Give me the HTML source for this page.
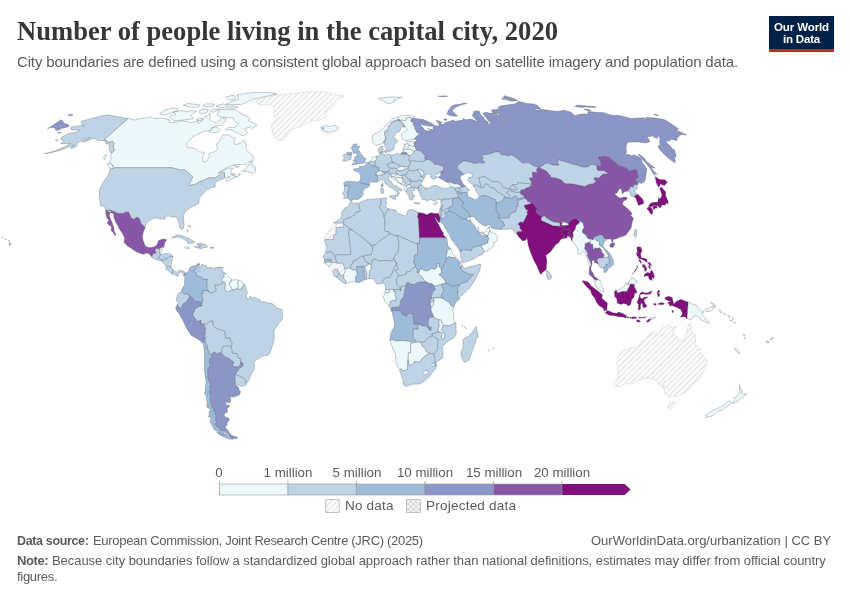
<!DOCTYPE html>
<html><head><meta charset="utf-8">
<style>
html,body{margin:0;padding:0;background:#fff;}
body{width:850px;height:600px;position:relative;overflow:hidden;font-family:"Liberation Sans",sans-serif;}
.t{position:absolute;white-space:nowrap;line-height:1;will-change:transform;}
#title{left:17px;top:17.9px;font-family:"Liberation Serif",serif;font-weight:bold;font-size:26.6px;color:#373737;}
#sub{left:17px;top:54.3px;font-size:15px;letter-spacing:-0.147px;color:#5b5b5b;}
#logo{position:absolute;left:769px;top:16px;width:65px;height:36px;background:#002147;}
#logo i{position:absolute;left:0;bottom:0;width:65px;height:2.8px;background:#ce261e;}
#logo b{will-change:transform;position:absolute;left:0;width:65px;text-align:center;color:#fff;font-size:11.5px;line-height:1;font-weight:bold;}
.lg{font-size:13.3px;color:#5b5b5b;transform:translateX(-50%);}
.lk{font-size:13.5px;color:#5b5b5b;}
.ft{font-size:13px;color:#5b5b5b;}
.ft b{color:#5b5b5b;}
svg{position:absolute;left:0;top:0;}
</style></head><body>
<div class="t" id="title">Number of people living in the capital city, 2020</div>
<div class="t" id="sub">City boundaries are defined using a consistent global approach based on satellite imagery and population data.</div>
<div id="logo"><b style="top:5.5px;letter-spacing:-0.1px">Our World</b><b style="top:17.8px;letter-spacing:-0.2px">in Data</b><i></i></div>
<svg width="850" height="600" viewBox="0 0 850 600">
<defs><pattern id="h" width="4" height="4" patternUnits="userSpaceOnUse" patternTransform="rotate(-45)"><rect width="4" height="4" fill="#fff"/><rect width="4" height="1.6" fill="#e7e7e7"/></pattern><pattern id="dots" width="5.2" height="5.2" patternUnits="userSpaceOnUse" x="407" y="500.3"><rect width="5.2" height="5.2" fill="#dadada"/><circle cx="1.3" cy="1.3" r="1.25" fill="#fff"/><circle cx="3.9" cy="3.9" r="1.25" fill="#fff"/></pattern></defs>
<g stroke="#d5d5d5" stroke-width="0.6" fill="url(#h)" stroke-linejoin="round">
<path d="M255.2,100.7L265.2,97.7L276.2,95.0L294.0,93.5L308.8,91.9L322.4,91.7L332.6,93.7L339.0,95.6L344.6,96.0L336.8,99.2L333.9,102.0L333.7,106.0L330.7,109.1L326.0,112.2L325.9,116.5L319.2,120.4L308.8,121.5L300.5,126.7L292.9,128.8L288.7,133.4L284.0,139.8L280.1,140.5L275.4,138.1L273.1,134.6L271.9,128.8L271.2,124.2L277.9,118.7L273.4,116.1L274.4,111.2L273.6,106.0L268.4,104.6L259.0,105.0L256.6,102.4Z"/>
<path d="M333.6,223.0L343.7,223.0L343.7,224.0L343.6,227.4L336.1,227.4L336.0,234.0L333.7,235.2L333.6,239.6L324.5,239.6L324.4,240.9L324.9,237.3L327.2,233.4L330.5,227.1L332.8,224.7Z"/>
<path d="M328.6,266.7L331.5,270.5L332.4,271.6L334.3,269.4L337.3,269.2L338.6,271.5L339.3,273.1L341.4,275.9L343.5,275.4L344.2,273.1L345.3,270.7L344.6,268.6L344.0,266.5L342.4,262.9L339.4,263.4L336.9,262.9L331.6,262.2L331.6,264.7L329.1,266.3Z"/>
<path d="M690.1,323.2L691.7,328.7L691.8,332.9L695.0,334.5L695.6,339.7L695.2,344.6L699.5,347.8L700.7,353.5L703.2,354.6L704.6,358.0L707.0,360.6L705.3,368.4L700.8,376.3L698.1,379.9L693.7,383.6L688.4,389.3L685.6,393.2L681.0,394.3L675.7,397.5L673.9,395.3L670.0,396.6L666.3,395.6L664.5,393.0L664.6,388.3L662.7,388.3L664.7,385.9L662.3,387.2L661.2,386.4L665.1,382.0L664.5,381.5L659.1,386.2L658.0,385.7L657.5,381.0L653.5,378.9L647.2,378.1L640.0,379.7L634.9,381.5L632.8,383.8L625.2,383.8L619.7,386.7L615.6,386.2L614.0,385.1L617.8,378.3L617.8,373.6L617.9,367.1L616.4,363.6L618.2,358.0L619.8,354.3L621.9,352.2L627.2,349.1L632.7,347.5L638.6,346.2L641.5,340.5L644.4,340.5L646.5,337.6L649.0,334.5L653.1,331.6L656.0,333.9L659.1,334.2L660.6,330.5L662.8,327.7L667.0,326.9L667.2,325.1L672.5,327.1L676.4,326.6L674.4,329.8L672.6,334.2L677.1,337.1L680.1,340.7L683.5,340.7L686.5,334.5L687.5,328.2L689.1,324.0ZM669.6,401.5L672.8,402.6L676.9,402.1L673.0,407.0L669.1,409.1L667.6,407.2L668.9,404.4Z"/>
</g><g stroke="#4f5560" stroke-opacity="0.7" stroke-width="0.45" stroke-linejoin="round">
<path fill="#edf8fb" d="M128.1,118.5L134.6,120.0L139.5,118.7L151.3,117.1L154.5,118.7L161.9,118.0L169.9,120.0L169.1,122.4L177.8,122.2L181.0,120.7L185.4,121.3L191.2,122.4L197.7,120.9L198.8,123.6L202.1,120.7L203.8,117.6L209.9,113.5L210.5,116.5L209.6,118.7L211.2,120.9L213.7,122.0L216.3,123.1L220.4,119.8L222.6,118.0L226.2,118.7L225.5,120.9L221.5,125.4L214.3,125.8L211.0,130.6L207.1,131.1L202.0,132.0L196.6,134.6L191.4,138.1L186.9,142.9L187.2,147.8L192.5,147.8L195.6,149.0L199.6,151.9L204.6,152.4L202.4,157.6L203.3,161.9L206.5,161.4L208.7,157.6L209.4,153.4L215.3,151.4L217.5,149.0L216.6,143.6L220.2,140.5L222.6,134.8L229.7,135.1L232.2,137.0L235.2,138.1L233.7,142.9L235.7,144.6L240.0,143.4L244.5,139.8L246.1,146.5L246.5,150.2L250.8,153.9L253.3,157.6L253.1,160.1L250.0,161.6L245.1,164.4L235.0,164.7L228.2,166.9L221.9,170.2L217.9,173.0L221.5,171.5L227.7,168.2L233.3,168.0L230.9,170.7L230.6,172.8L231.5,175.3L237.2,176.6L240.4,173.0L239.6,175.6L231.3,179.2L226.4,181.8L225.6,179.5L230.0,176.6L224.5,177.7L224.5,172.8L222.0,171.8L216.9,177.1L215.1,177.9L208.5,177.9L203.9,180.5L198.0,182.3L197.5,183.6L189.4,185.6L188.7,184.9L192.7,177.1L189.8,174.1L184.6,169.7L181.3,170.2L171.4,167.7L115.0,167.7L113.2,169.5L112.7,165.2L109.5,162.6L111.4,158.9L110.4,155.1L112.1,152.7L114.6,150.2L113.0,147.8L114.0,143.6L112.6,141.2L107.2,142.9L106.9,140.5L103.9,139.8L128.1,118.5ZM242.3,171.3L247.1,167.7L250.3,161.9L253.1,161.4L251.3,165.2L255.3,166.9L255.7,171.5L253.5,173.6L249.6,172.8L249.0,171.3ZM113.2,169.2L109.6,168.2L107.3,163.4L110.1,163.1L112.7,165.2L114.0,167.7ZM220.8,109.5L228.5,109.7L235.6,109.7L239.2,112.2L242.7,114.1L247.6,116.5L250.4,118.7L248.3,120.9L253.8,123.1L256.9,125.4L251.7,128.8L250.0,127.0L244.7,128.8L247.3,133.0L243.7,135.8L239.8,134.6L235.7,132.3L231.7,129.9L225.6,129.9L227.9,127.6L234.8,127.6L238.4,123.1L234.5,121.3L232.8,117.6L226.9,117.8L220.9,116.9L217.2,115.4L218.3,112.2ZM169.6,116.3L172.2,119.3L174.2,120.7L183.3,120.0L193.7,118.7L191.0,115.4L196.1,111.2L191.2,110.5L186.8,111.6L181.6,110.5L173.3,112.2L175.8,114.3ZM159.4,113.7L163.4,115.2L167.6,114.3L177.7,110.5L177.8,108.5L172.1,108.0L166.3,109.5ZM225.9,104.4L233.5,104.4L241.0,104.6L245.9,102.6L251.8,99.6L263.0,97.0L277.0,94.0L271.5,92.6L260.9,92.3L246.1,93.2L236.8,95.1L238.3,97.4L238.7,99.6L232.1,101.4ZM223.5,103.8L227.3,106.0L236.6,106.0L238.2,107.6L231.4,108.3L219.7,107.4L215.8,106.0ZM225.8,97.0L229.2,100.1L235.4,99.2L234.0,95.1ZM212.5,109.1L220.4,109.1L213.5,112.2L210.1,111.6ZM200.8,109.7L208.4,109.3L207.1,112.2L201.8,114.3L199.0,112.2ZM183.4,105.4L191.6,107.4L198.3,107.0L200.0,105.0L192.9,104.0L187.7,103.4ZM205.3,103.8L214.2,104.0L213.0,106.4L207.7,107.0L202.9,105.8ZM211.1,127.9L217.0,127.0L220.0,130.4L217.9,132.3L211.2,133.0L208.9,131.1ZM196.9,118.9L202.4,118.2L202.4,120.2L197.0,120.7ZM231.5,173.3L235.9,174.3L233.5,175.3ZM233.7,165.4L238.8,166.9L236.1,167.2ZM104.8,154.9L107.1,155.1L104.5,159.6L103.5,157.6Z"/>
<path fill="#bfd3e6" d="M115.0,167.7L110.5,169.2L108.4,174.8L102.7,183.1L99.1,190.0L99.7,196.5L100.1,205.2L104.4,206.5L105.8,210.4L110.9,210.4L118.2,213.5L124.3,213.5L124.8,212.2L128.5,212.2L131.2,218.0L134.1,219.5L136.0,217.4L139.0,218.0L141.0,223.4L145.2,227.6L146.1,222.7L152.0,219.0L155.0,217.7L159.9,218.7L164.9,219.3L164.9,216.4L168.3,216.1L173.6,216.9L176.9,216.9L178.5,222.1L179.8,227.4L181.2,229.4L183.1,228.7L184.2,224.7L183.2,215.6L185.2,211.7L190.1,207.8L193.1,206.5L199.0,203.1L199.1,198.6L200.9,196.0L204.8,192.1L206.0,189.5L210.7,188.2L215.4,186.7L214.8,183.8L217.2,181.0L224.3,178.4L224.5,177.7L224.5,172.8L222.0,171.8L216.9,177.1L215.1,177.9L208.5,177.9L203.9,180.5L198.0,182.3L197.5,183.6L189.4,185.6L188.7,184.9L192.7,177.1L189.8,174.1L184.6,169.7L181.3,170.2L171.4,167.7ZM128.1,118.5L122.6,117.6L115.8,116.5L107.5,114.8L99.3,116.5L91.1,118.7L81.7,121.1L81.6,124.2L83.8,125.8L80.1,125.4L70.4,127.4L71.5,129.9L79.3,129.9L76.3,132.3L69.5,133.4L61.5,137.0L60.4,139.3L64.2,140.8L60.6,143.9L67.6,143.4L70.4,143.4L65.1,146.5L56.4,150.2L48.9,152.7L44.4,153.7L50.9,152.7L58.7,150.7L66.6,147.8L74.7,144.6L79.7,141.7L87.4,138.1L89.7,137.7L82.0,142.2L88.4,140.5L92.3,138.6L95.7,138.8L97.6,140.5L103.2,140.5L105.5,141.0L106.0,143.6L109.2,144.6L109.2,147.8L109.5,150.5L110.6,152.7L112.1,152.7L114.6,150.2L113.0,147.8L114.0,143.6L112.6,141.2L107.2,142.9L106.9,140.5L103.9,139.8ZM71.7,146.5L77.5,144.6L75.8,146.8L70.6,148.5ZM55.3,140.0L58.5,139.8L56.5,141.0ZM57.6,132.0L61.5,132.7L57.9,133.4ZM9.3,242.5L11.5,243.8L9.5,245.9L9.1,244.3ZM8.5,240.4L9.9,240.9L8.9,241.5ZM5.2,238.9L6.5,239.1L5.6,239.9ZM2.2,237.3L3.3,237.5L2.7,238.1Z"/>
<path fill="#8856a7" d="M145.2,227.6L141.0,223.4L139.0,218.0L136.0,217.4L134.1,219.5L131.2,218.0L128.5,212.2L124.8,212.2L124.3,213.5L118.2,213.5L110.9,210.4L105.8,210.4L110.4,212.5L113.7,213.8L113.8,216.9L115.6,222.1L118.0,226.1L119.6,229.2L123.0,234.4L124.6,238.3L124.0,242.2L126.9,245.6L131.1,248.3L136.3,251.7L142.8,254.3L147.5,253.0L149.6,254.3L152.2,257.4L152.4,255.6L153.8,253.5L156.6,253.2L154.9,250.3L156.0,248.8L160.1,248.8L160.2,248.3L162.4,246.9L163.7,247.5L164.7,243.0L166.7,239.6L163.0,238.9L158.5,240.4L157.3,244.3L154.5,246.7L149.3,247.7L145.4,246.2L143.1,240.4L142.3,236.5L143.2,232.6ZM105.8,210.4L110.9,210.4L110.4,212.5L109.1,215.6L110.8,219.5L112.2,222.7L113.7,227.4L114.2,231.3L116.2,234.7L115.0,235.5L113.4,232.8L111.0,230.5L111.6,226.8L108.0,224.2L107.0,222.7L109.1,220.8L106.5,216.9L105.8,213.0Z"/>
<path fill="#bfd3e6" d="M160.1,248.8L156.0,248.8L154.9,250.3L156.6,253.2L153.8,253.5L152.4,255.6L152.2,257.4L153.9,259.0L156.8,259.4L158.7,257.7L159.2,256.1L161.7,254.3L160.2,253.7L159.5,253.5Z"/>
<path fill="#edf8fb" d="M160.1,248.8L159.5,253.5L160.2,253.7L161.8,251.4L162.8,247.2L162.4,246.9L160.2,248.3Z"/>
<path fill="#bfd3e6" d="M156.8,259.4L158.7,257.7L160.5,259.0L162.3,259.2L162.0,260.8L159.7,260.8Z"/>
<path fill="#bfd3e6" d="M158.7,257.7L159.2,256.1L161.7,254.3L163.3,254.0L166.8,253.5L170.2,254.0L172.9,256.1L169.2,256.9L166.9,259.0L164.6,259.2L163.1,261.3L162.0,260.8L162.3,259.2L160.5,259.0Z"/>
<path fill="#bfd3e6" d="M172.9,256.1L169.2,256.9L166.9,259.0L164.6,259.2L163.1,261.3L162.1,261.6L164.7,264.5L166.4,266.3L168.6,266.5L170.9,266.8L171.4,262.6L172.2,258.7Z"/>
<path fill="#bfd3e6" d="M166.4,266.3L168.6,266.5L170.9,266.8L173.2,270.2L172.4,271.8L172.3,274.1L170.5,273.1L168.2,270.2L165.9,269.2Z"/>
<path fill="#bfd3e6" d="M173.2,270.2L172.4,271.8L172.3,274.1L174.8,274.4L176.6,276.2L178.2,275.9L178.5,273.9L180.3,271.8L183.2,273.6L183.7,276.2L185.2,274.6L185.2,272.7L182.6,270.5L179.9,270.2L176.8,272.3Z"/>
<path fill="#bfd3e6" d="M171.2,238.1L175.9,235.2L180.4,234.9L184.7,236.8L189.0,238.6L192.2,240.4L194.9,242.5L191.9,243.3L186.9,243.4L188.2,241.5L185.4,240.4L182.3,238.3L177.9,237.0L174.5,237.5Z"/>
<path fill="#edf8fb" d="M184.8,247.2L188.0,246.9L189.7,248.3L187.4,248.8L185.0,248.0Z"/>
<path fill="#bfd3e6" d="M194.0,246.7L197.1,247.7L199.7,248.3L200.1,246.4L200.3,243.8L198.0,243.3L196.6,243.8L198.0,244.9L198.5,246.7Z"/>
<path fill="#bfd3e6" d="M199.7,248.3L200.1,246.4L200.3,243.8L203.2,243.6L205.8,244.9L207.6,246.7L206.2,247.2L203.4,247.7L201.0,249.0Z"/>
<path fill="#bfd3e6" d="M210.3,246.9L213.7,247.2L213.1,248.3L210.2,248.3Z"/>
<path fill="#edf8fb" d="M187.7,225.3L190.8,225.8L190.1,227.4ZM187.5,229.4L188.4,230.8L187.8,232.1Z"/>
<path fill="#edf8fb" d="M220.9,267.3L223.2,267.1L222.9,268.9L220.8,268.9Z"/>
<path fill="#edf8fb" d="M320.7,127.4L324.2,125.6L328.4,126.3L335.4,125.4L338.6,127.6L337.5,129.9L332.8,131.6L329.1,132.5L323.1,131.3L324.2,130.2L320.9,129.0L324.6,128.1Z"/>
<path fill="#9ebcda" d="M183.7,276.2L185.2,274.6L185.2,272.7L184.8,277.8L184.5,280.9L184.8,284.8L182.2,288.5L181.2,291.6L181.2,291.6L184.4,294.2L187.0,294.2L189.5,295.5L189.5,295.5L193.0,298.7L194.9,301.5L201.3,302.3L200.0,305.2L201.8,306.2L201.8,306.2L202.9,298.2L201.5,295.8L201.5,294.0L203.6,293.7L202.0,290.8L208.2,290.8L208.7,292.1L208.7,292.1L208.0,289.3L206.6,288.0L207.8,286.4L206.7,283.5L207.6,279.1L203.2,279.3L201.6,277.0L196.9,275.9L196.5,273.3L194.5,271.2L196.6,266.3L199.5,264.5L198.7,262.8L195.5,265.8L192.5,266.0L189.7,267.6L189.0,270.7L186.4,272.8Z"/>
<path fill="#bfd3e6" d="M199.5,264.5L196.6,266.3L194.5,271.2L196.5,273.3L196.9,275.9L201.6,277.0L203.2,279.3L207.6,279.1L206.7,283.5L207.8,286.4L206.6,288.0L208.0,289.3L208.7,292.1L208.7,292.1L211.9,293.2L214.9,291.4L216.8,289.5L215.4,288.7L215.0,284.6L218.0,285.6L218.5,284.8L222.4,283.5L223.2,281.7L223.2,281.7L221.6,279.9L222.3,277.8L224.2,276.7L223.6,274.9L225.5,273.6L225.0,272.8L222.7,272.8L223.3,270.7L219.9,269.4L218.8,268.1L220.9,267.3L215.4,267.6L215.1,268.9L211.0,267.6L206.4,267.6L206.6,265.5L202.9,265.2L202.1,263.7L201.7,265.8L199.1,266.8L198.5,269.9L199.8,271.2L198.2,271.5L197.4,269.4L198.7,266.5Z"/>
<path fill="#edf8fb" d="M225.0,272.8L225.5,273.6L223.6,274.9L224.2,276.7L222.3,277.8L221.6,279.9L223.2,281.7L223.2,281.7L224.5,282.2L224.8,283.5L225.4,283.8L225.8,285.1L225.0,285.9L224.6,288.2L225.5,290.6L227.1,291.9L229.2,291.4L230.8,290.2L232.7,290.2L232.7,290.2L230.9,286.7L229.3,284.6L229.6,282.7L231.0,282.2L231.4,279.7L229.5,277.5L228.2,275.9L226.8,274.1Z"/>
<path fill="#edf8fb" d="M231.4,279.7L231.0,282.2L229.6,282.7L229.3,284.6L230.9,286.7L232.7,290.2L232.7,290.2L233.8,289.3L234.1,290.3L235.9,288.7L237.3,289.3L237.3,289.3L238.5,286.1L237.5,283.5L238.6,280.3L236.1,279.6L234.0,280.0Z"/>
<path fill="#edf8fb" d="M238.6,280.3L237.5,283.5L238.5,286.1L237.3,289.3L237.3,289.3L238.9,289.1L241.0,289.5L242.2,286.9L243.9,284.4L243.6,283.3L241.1,281.2L238.9,280.3Z"/>
<path fill="#bfd3e6" d="M189.5,295.5L187.0,294.2L184.4,294.2L181.2,291.6L178.3,293.2L177.3,296.3L176.4,297.9L176.4,301.0L178.5,302.1L177.9,304.2L177.9,304.2L177.5,304.4L177.9,306.9L180.5,308.3L181.6,307.3L183.2,303.9L186.3,302.1L189.3,297.8L189.5,295.5Z"/>
<path fill="#8c96c6" d="M201.8,306.2L200.0,305.2L201.3,302.3L194.9,301.5L193.0,298.7L189.5,295.5L189.5,295.5L189.3,297.8L186.3,302.1L183.2,303.9L181.6,307.3L180.5,308.3L177.9,306.9L177.5,304.4L177.9,304.2L175.6,307.6L176.7,310.4L179.3,314.1L182.6,320.1L186.0,326.9L188.7,331.6L191.3,335.5L197.8,338.9L203.0,343.2L203.0,343.2L204.6,341.0L204.6,341.0L205.8,338.4L204.6,336.0L205.5,332.9L205.1,331.1L205.6,327.9L203.4,323.9L203.4,323.9L201.0,324.0L201.0,320.0L197.2,321.4L195.3,318.8L192.7,314.6L194.4,311.2L195.0,308.9L199.8,306.2L201.8,306.2Z"/>
<path fill="#bfd3e6" d="M204.6,341.0L205.8,338.4L204.6,336.0L205.5,332.9L205.1,331.1L205.6,327.9L203.4,323.9L206.3,324.0L210.0,321.1L212.8,320.6L213.2,325.3L215.7,327.9L219.2,329.2L223.4,330.5L224.6,331.3L225.7,337.9L230.1,337.9L230.5,340.7L232.3,342.8L231.8,344.9L231.2,347.0L231.2,348.0L228.9,345.7L222.8,346.5L222.0,349.1L221.6,353.4L218.7,352.7L217.8,354.8L215.8,353.0L213.2,352.2L211.7,354.6L211.5,354.8L209.9,354.8L208.8,351.4L207.3,348.6L207.7,346.0L206.4,344.9L204.8,341.0Z"/>
<path fill="#bfd3e6" d="M221.6,353.4L222.0,349.1L222.8,346.5L228.9,345.7L231.2,348.0L232.1,349.4L232.3,353.0L237.0,353.5L238.4,358.0L240.2,358.0L241.0,359.5L240.6,362.2L240.4,364.8L238.7,366.9L236.9,367.1L232.1,366.3L233.9,362.2L230.9,360.1L228.0,358.0L225.7,357.4L221.6,353.4Z"/>
<path fill="#9ebcda" d="M204.6,341.0L203.0,343.2L203.8,346.7L204.5,351.2L204.5,356.9L204.5,362.4L204.3,370.8L205.3,376.0L206.1,382.8L205.4,388.0L205.2,392.2L204.4,392.4L206.8,397.9L206.3,399.7L207.4,403.9L209.8,404.1L208.6,405.2L210.4,405.9L209.8,408.5L211.4,411.4L209.8,410.3L209.1,412.4L209.3,414.7L208.2,416.7L211.5,417.5L210.1,419.5L210.5,422.1L211.1,424.1L213.0,426.4L212.4,426.9L214.1,427.9L213.9,429.4L217.3,431.2L218.5,432.4L223.1,434.9L224.9,434.9L223.2,432.9L224.2,432.7L226.0,430.8L227.9,431.2L228.4,431.4L227.9,431.2L226.0,430.8L221.1,430.4L219.7,428.9L218.9,427.2L216.6,426.4L215.3,423.6L216.5,422.6L216.4,420.8L215.8,419.5L216.0,417.5L215.8,415.2L214.7,412.6L215.4,412.1L213.8,410.6L214.1,409.6L212.9,408.5L211.6,405.7L212.2,405.2L210.7,401.8L210.4,399.2L210.3,396.9L211.4,396.1L209.8,393.5L209.4,391.1L210.6,389.6L210.0,387.2L210.7,384.6L210.2,382.3L209.4,381.7L207.6,377.3L208.3,374.4L207.7,372.1L207.9,369.7L209.0,367.1L210.4,365.5L209.3,359.3L211.6,358.0L212.0,355.4L211.5,354.8L209.9,354.8L208.8,351.4L207.3,348.6L207.7,346.0L206.4,344.9L204.8,341.0ZM228.3,432.0L230.7,437.5L232.6,437.6L234.2,438.6L232.4,439.4L230.2,439.1L226.2,437.9L223.1,436.6L220.6,435.4L216.5,432.4L218.5,433.0L222.0,434.7L225.2,435.7L225.4,434.4L225.3,432.7L226.7,431.7ZM206.7,404.4L208.3,404.6L209.5,408.3L207.5,408.0Z"/>
<path fill="#8c96c6" d="M211.5,354.8L211.7,354.6L213.2,352.2L215.8,353.0L217.8,354.8L218.7,352.7L221.6,353.4L221.6,353.4L225.7,357.4L228.0,358.0L230.9,360.1L233.9,362.2L232.1,366.3L236.9,367.1L238.7,366.9L240.4,364.8L240.6,362.2L242.4,362.2L243.0,363.5L242.9,366.3L240.0,368.2L238.8,369.5L235.5,374.2L235.2,376.3L235.1,379.7L235.4,381.5L235.4,383.8L235.4,385.1L238.7,387.5L239.0,390.1L240.7,391.7L239.2,395.0L236.3,396.3L232.2,397.1L229.7,396.6L230.6,398.4L230.7,400.2L230.4,402.3L228.2,402.8L225.3,401.8L225.7,403.6L226.5,405.2L229.0,404.9L229.8,406.5L228.2,407.2L227.0,408.8L227.6,411.4L227.3,412.6L225.5,412.6L224.3,414.2L224.3,416.0L227.0,417.8L229.2,418.3L229.1,420.6L227.2,422.1L227.1,425.1L225.7,426.1L225.3,427.2L227.0,429.9L228.9,431.3L228.4,431.4L227.9,431.2L226.0,430.8L221.1,430.4L219.7,428.9L218.9,427.2L216.6,426.4L215.3,423.6L216.5,422.6L216.4,420.8L215.8,419.5L216.0,417.5L215.8,415.2L214.7,412.6L215.4,412.1L213.8,410.6L214.1,409.6L212.9,408.5L211.6,405.7L212.2,405.2L210.7,401.8L210.4,399.2L210.3,396.9L211.4,396.1L209.8,393.5L209.4,391.1L210.6,389.6L210.0,387.2L210.7,384.6L210.2,382.3L209.4,381.7L207.6,377.3L208.3,374.4L207.7,372.1L207.9,369.7L209.0,367.1L210.4,365.5L209.3,359.3L211.6,358.0L212.0,355.4L211.5,354.8ZM228.3,432.0L229.5,433.2L231.3,434.9L234.4,436.5L237.4,437.1L237.0,438.4L235.0,438.5L230.7,437.5Z"/>
<path fill="#bfd3e6" d="M235.4,383.8L235.4,381.5L235.1,379.7L235.2,376.3L235.5,374.2L239.3,376.0L242.7,377.6L244.6,378.9L246.2,380.7L245.5,382.0L246.3,383.6L245.7,385.1L243.6,386.6L241.7,386.1L240.7,386.4L238.5,385.1L237.0,385.4Z"/>
<path fill="#bfd3e6" d="M243.9,284.4L242.2,286.9L241.0,289.5L238.9,289.1L237.3,289.3L235.9,288.7L234.1,290.3L233.8,289.3L232.7,290.2L230.8,290.2L229.2,291.4L227.1,291.9L225.5,290.6L224.6,288.2L225.0,285.9L225.8,285.1L225.4,283.8L224.8,283.5L224.5,282.2L223.2,281.7L222.4,283.5L218.5,284.8L218.0,285.6L215.0,284.6L215.4,288.7L216.8,289.5L214.9,291.4L211.9,293.2L208.7,292.1L208.2,290.8L202.0,290.8L203.6,293.7L201.5,294.0L201.5,295.8L202.9,298.2L201.8,306.2L199.8,306.2L195.0,308.9L194.4,311.2L192.7,314.6L195.3,318.8L197.2,321.4L201.0,320.0L201.0,324.0L203.4,323.9L206.3,324.0L210.0,321.1L212.8,320.6L213.2,325.3L215.7,327.9L219.2,329.2L223.4,330.5L224.6,331.3L225.7,337.9L230.1,337.9L230.5,340.7L232.3,342.8L231.8,344.9L231.2,347.0L231.2,348.0L232.1,349.4L232.3,353.0L237.0,353.5L238.4,358.0L240.2,358.0L241.0,359.5L240.6,362.2L242.4,362.2L243.0,363.5L242.9,366.3L240.0,368.2L238.8,369.5L235.5,374.2L239.3,376.0L242.7,377.6L244.6,378.9L246.2,380.7L245.5,382.0L246.3,383.6L247.6,382.0L249.4,378.3L251.4,374.2L252.9,371.6L254.5,368.9L254.3,364.5L254.2,361.9L256.1,360.3L258.6,358.2L260.8,357.4L262.5,356.1L265.6,355.4L268.3,355.1L270.4,352.7L270.5,350.9L271.9,347.5L273.0,343.1L273.8,340.2L274.2,336.3L273.8,331.3L274.8,329.2L276.6,327.1L278.1,324.0L279.9,322.2L281.9,319.6L282.7,316.2L282.9,314.1L281.9,309.6L278.9,308.6L277.3,308.1L274.2,304.9L271.0,302.9L267.3,302.9L263.8,301.5L260.6,302.3L260.1,300.0L256.9,298.4L253.6,297.1L251.1,299.2L251.1,296.1L247.7,300.0L246.3,295.8L247.7,292.7L246.1,289.8L245.2,285.1L243.9,284.4Z"/>
<path fill="#edf8fb" d="M383.6,142.7L384.8,142.9L384.8,141.0L386.1,139.6L385.3,138.1L386.3,137.2L385.1,136.5L384.5,132.0L385.5,131.1L388.0,131.1L387.1,129.7L388.5,128.1L388.1,126.3L389.6,125.8L390.6,124.2L391.4,122.2L393.4,122.0L393.6,120.9L396.8,121.1L397.5,119.6L382.5,142.9L379.8,144.4L376.2,145.3L373.4,143.2L372.2,139.3L372.1,135.8L374.7,133.9L378.1,132.3L381.6,130.4L383.9,127.6L385.4,125.4L387.8,123.1L390.0,120.9L393.0,118.7L398.6,117.1L402.3,115.4L405.2,115.1L408.9,115.4L414.2,116.9L414.2,118.0L412.0,119.1L411.5,119.7L411.4,118.2L409.2,117.4L406.3,118.2L406.2,119.8L405.1,120.7L402.9,120.3L400.7,120.4L398.6,119.1L397.5,119.6ZM378.5,98.3L386.0,97.4L393.0,97.0L401.7,97.2L397.9,98.8L393.8,99.9L395.0,101.6L388.8,103.8L384.7,102.0L383.0,100.7L379.8,99.6Z"/>
<path fill="#bfd3e6" d="M397.5,119.6L396.8,121.1L393.6,120.9L393.4,122.0L391.4,122.2L390.6,124.2L389.6,125.8L388.1,126.3L388.5,128.1L387.1,129.7L388.0,131.1L385.5,131.1L384.5,132.0L385.1,136.5L386.3,137.2L385.3,138.1L386.1,139.6L384.8,141.0L384.8,142.9L383.6,142.7L384.1,144.4L385.4,146.3L387.0,149.7L387.8,151.7L390.3,151.7L390.5,150.5L393.2,150.0L394.2,148.5L394.2,145.6L394.8,143.9L397.3,141.7L397.8,140.3L394.7,138.8L394.0,136.5L395.0,134.6L397.4,132.3L399.4,131.6L400.5,129.7L400.6,128.1L401.8,127.0L405.0,127.0L403.9,125.8L404.1,124.5L403.3,123.1L402.7,122.1L400.0,120.9L397.5,119.6Z"/>
<path fill="#edf8fb" d="M397.5,119.6L400.0,120.9L402.7,122.1L403.3,123.1L404.1,124.5L403.9,125.8L405.0,127.0L398.6,119.1L400.7,120.4L402.9,120.3L405.1,120.7L406.2,119.8L406.3,118.2L409.2,117.4L411.4,118.2L411.5,119.7L410.8,120.0L411.4,121.5L414.1,122.7L413.0,124.5L414.7,126.5L415.2,129.2L415.9,129.9L416.3,131.8L419.6,133.7L417.2,135.8L415.8,137.4L414.0,139.2L409.0,140.0L405.3,140.9L402.4,139.1L401.9,138.1L401.3,134.6L403.2,132.7L406.3,130.4L407.4,128.8Z"/>
<path fill="#bfd3e6" d="M379.6,152.9L378.6,151.4L378.4,148.7L379.3,147.5L382.8,146.1L382.5,148.0L383.8,149.2L382.5,150.2L381.8,151.9L382.1,153.2ZM384.1,151.0L386.5,150.0L387.2,151.2L386.5,152.7L384.6,152.2ZM381.8,151.4L383.5,151.4L383.6,152.4L382.3,152.4Z"/>
<path fill="#9ebcda" d="M351.6,164.9L356.0,164.4L359.0,163.7L363.6,163.1L365.8,162.1L364.4,161.4L366.4,158.6L363.6,157.6L363.2,156.1L360.7,153.7L359.9,151.2L357.3,150.2L359.2,147.8L359.6,146.3L355.5,146.3L357.2,143.9L353.7,143.9L352.1,146.5L351.2,148.5L352.5,150.7L353.6,153.2L356.5,152.9L357.0,155.4L357.2,156.6L354.2,156.9L354.8,158.1L354.9,159.4L352.7,160.4L354.7,161.1L357.1,161.6L354.7,162.1ZM348.9,152.7L351.5,152.2L352.4,153.7L351.2,154.9L348.8,154.9L347.3,153.9Z"/>
<path fill="#bfd3e6" d="M351.2,154.9L351.3,156.9L350.8,159.6L348.2,160.1L346.2,161.1L343.2,161.1L342.7,159.6L344.4,158.4L343.5,156.4L343.6,154.7L346.6,154.2L346.4,152.7L348.6,151.9L348.9,152.7L347.3,153.9L348.8,154.9Z"/>
<path fill="#9ebcda" d="M359.3,182.0L360.5,178.9L360.7,176.4L360.5,174.8L358.5,172.5L357.3,171.5L354.1,170.7L353.3,169.2L357.0,168.2L359.8,168.7L359.4,165.9L360.8,166.7L363.4,166.4L366.2,164.7L366.2,162.9L368.1,162.4L369.4,163.1L371.4,165.2L372.6,164.9L374.7,166.4L375.9,166.4L379.5,167.7L378.5,171.3L377.1,172.0L375.5,174.8L377.0,174.3L377.4,175.6L377.5,177.7L377.3,179.5L378.6,181.0L376.8,182.5L374.3,182.3L371.4,181.8L369.5,182.8L369.5,184.6L366.6,184.4L364.5,183.6L361.8,183.3L359.3,182.0ZM381.1,184.6L382.7,183.1L383.0,185.6L382.4,187.2L381.1,185.9Z"/>
<path fill="#9ebcda" d="M359.3,182.0L355.1,181.8L350.9,181.5L346.3,181.3L343.6,183.1L344.3,185.9L345.8,185.4L346.0,186.2L349.1,185.9L349.9,186.7L348.4,188.2L348.4,190.3L348.1,191.6L347.0,191.9L348.1,193.4L347.4,195.0L348.0,195.5L346.9,197.3L347.1,198.1L349.2,199.2L350.9,201.2L353.5,199.4L358.3,199.4L361.5,197.1L363.4,193.9L362.4,192.1L364.9,188.8L367.7,187.2L370.0,185.6L369.5,184.6L366.6,184.4L364.5,183.6L361.8,183.3L359.3,182.0Z"/>
<path fill="#bfd3e6" d="M347.1,198.1L346.9,197.3L348.0,195.5L347.4,195.0L348.1,193.4L347.0,191.9L348.1,191.6L348.4,190.3L348.4,188.2L349.9,186.7L349.1,185.9L346.0,186.2L345.8,185.4L344.3,185.9L344.6,188.5L343.8,191.6L342.7,193.9L344.2,195.0L344.1,196.3L343.6,198.6Z"/>
<path fill="#bfd3e6" d="M368.1,162.4L369.8,161.6L371.5,161.6L372.9,161.4L374.5,162.1L374.4,163.1L375.2,163.4L375.8,164.4L375.2,164.9L374.7,166.4L372.6,164.9L371.4,165.2L369.4,163.1Z"/>
<path fill="#edf8fb" d="M369.8,161.6L370.9,160.1L372.2,157.6L373.8,156.6L376.7,156.6L377.1,157.1L376.8,158.6L376.2,160.1L374.9,160.6L375.3,161.6L374.7,162.6L374.4,163.1L374.5,162.1L372.9,161.4L371.5,161.6Z"/>
<path fill="#edf8fb" d="M374.7,166.4L375.2,164.9L376.0,165.7L375.9,166.4Z"/>
<path fill="#bfd3e6" d="M377.1,157.1L376.6,155.9L378.6,155.9L379.7,155.4L380.3,154.9L379.6,152.9L382.1,153.2L382.4,154.2L384.3,154.2L384.0,155.1L386.3,154.7L387.2,153.9L389.3,153.9L390.6,155.4L391.1,156.9L390.7,158.1L391.7,158.6L392.0,159.9L391.9,160.6L392.8,162.4L392.5,162.9L391.4,162.6L389.3,163.7L387.2,164.4L388.1,165.4L388.2,166.7L390.9,168.2L389.4,169.5L389.0,170.0L389.5,171.5L387.8,171.3L385.4,171.8L384.4,171.5L383.8,172.0L382.6,171.5L380.5,171.0L378.5,171.3L379.5,167.7L375.9,166.4L376.0,165.7L375.2,164.9L375.8,164.4L375.2,163.4L374.7,162.6L375.3,161.6L374.9,160.6L376.2,160.1L376.8,158.6Z"/>
<path fill="#edf8fb" d="M375.5,174.8L377.1,172.0L378.5,171.3L380.5,171.0L382.6,171.5L382.4,172.5L384.3,173.0L384.5,174.1L383.7,174.8L382.1,174.3L381.5,175.9L380.2,174.6L379.3,175.6L377.4,175.6L377.0,174.3Z"/>
<path fill="#bfd3e6" d="M382.6,171.5L383.8,172.0L384.4,171.5L385.4,171.8L387.8,171.3L389.5,171.5L389.0,170.0L389.4,169.5L390.9,168.2L392.7,168.7L393.3,167.7L395.5,168.5L397.2,168.7L397.7,170.2L396.6,171.5L395.9,173.0L393.7,173.8L391.1,174.1L388.4,173.6L387.9,172.8L385.9,173.0L384.3,173.0L382.4,172.5Z"/>
<path fill="#bfd3e6" d="M378.6,181.0L381.3,179.5L384.0,180.5L385.0,183.3L387.6,185.1L389.6,187.2L392.2,187.7L393.3,188.8L394.9,190.3L396.4,190.8L397.4,193.4L396.7,196.0L397.6,196.3L398.5,193.9L399.8,193.4L398.2,191.6L398.9,189.8L401.3,191.1L402.3,190.6L401.2,189.0L396.8,186.9L397.1,185.9L394.6,185.6L392.4,183.8L391.2,181.5L388.8,180.0L388.4,177.1L390.0,176.1L391.4,176.4L390.9,174.8L391.1,174.1L388.4,173.6L387.9,172.8L385.9,173.0L384.3,173.0L384.5,174.1L383.7,174.8L382.1,174.3L381.5,175.9L380.2,174.6L379.3,175.6L377.4,175.6L377.5,177.7L377.3,179.5ZM389.6,196.0L391.5,195.5L396.5,195.2L395.5,197.6L395.6,199.4L393.9,199.2L389.9,197.1ZM380.4,188.5L382.5,187.7L383.8,189.5L383.5,192.9L382.0,193.7L380.9,192.9L380.8,190.0Z"/>
<path fill="#bfd3e6" d="M392.5,162.9L392.8,162.4L391.9,160.6L392.0,159.9L391.7,158.6L390.7,158.1L391.1,156.9L390.6,155.4L394.6,154.2L397.8,153.2L399.0,154.2L401.0,154.0L407.2,154.3L408.7,155.1L409.8,157.6L408.7,159.4L409.8,161.4L411.0,163.1L409.9,164.2L408.6,166.2L408.6,167.4L405.2,166.7L403.3,167.2L402.2,166.2L400.9,166.4L399.1,165.2L396.8,164.2L395.5,163.4L392.8,162.6Z"/>
<path fill="#bfd3e6" d="M392.5,162.9L391.4,162.6L389.3,163.7L387.2,164.4L388.1,165.4L388.2,166.7L390.9,168.2L392.7,168.7L393.3,167.7L395.5,168.5L397.2,168.7L397.7,168.0L399.6,166.9L400.9,166.4L399.1,165.2L396.8,164.2L395.5,163.4L392.8,162.6Z"/>
<path fill="#edf8fb" d="M397.2,168.7L397.7,170.2L399.2,170.9L401.2,170.7L403.4,170.0L404.5,169.0L406.5,169.0L407.9,169.2L408.6,167.4L405.2,166.7L403.3,167.2L402.2,166.2L400.9,166.4L399.6,166.9L397.7,168.0Z"/>
<path fill="#bfd3e6" d="M395.9,173.0L396.6,171.5L397.7,170.2L399.2,170.9L401.2,170.7L403.4,170.0L404.5,169.0L406.5,169.0L407.9,169.2L409.5,170.2L407.8,171.8L406.5,174.3L404.7,175.0L401.9,175.6L399.4,175.5L397.0,174.2Z"/>
<path fill="#edf8fb" d="M391.1,174.1L393.7,173.8L395.9,173.0L397.0,174.2L395.2,174.8L395.1,175.9L394.4,176.8L392.9,176.6L391.1,176.6L391.4,176.4L390.9,174.8Z"/>
<path fill="#edf8fb" d="M391.1,176.6L392.9,176.6L394.4,176.8L395.1,175.9L395.2,174.8L397.0,174.2L399.4,175.5L401.9,175.6L402.5,177.4L402.3,178.2L400.2,177.7L397.9,177.4L396.1,177.4L395.7,178.4L396.7,180.0L398.5,181.8L399.8,183.1L401.8,184.5L398.6,183.1L396.4,181.8L394.6,180.0L393.8,177.9L392.5,177.1L391.8,178.4L390.9,176.9Z"/>
<path fill="#edf8fb" d="M396.1,177.4L397.9,177.4L400.2,177.7L402.3,178.2L403.0,178.2L402.7,179.7L403.8,180.7L403.1,181.8L402.1,182.5L401.8,184.1L399.8,183.1L398.5,181.8L396.7,180.0L395.7,178.4Z"/>
<path fill="#bfd3e6" d="M401.9,175.6L404.7,175.0L405.8,176.0L407.4,177.4L407.3,178.4L408.9,179.2L410.1,178.9L410.2,180.0L409.7,181.0L411.1,182.5L410.0,184.6L410.1,184.9L408.4,185.0L406.4,185.9L405.2,184.1L405.6,183.3L403.1,181.8L403.8,180.7L402.7,179.7L403.0,178.2L402.3,178.2L402.5,177.4Z"/>
<path fill="#edf8fb" d="M401.8,184.5L401.8,184.1L402.1,182.5L403.1,181.8L405.6,183.3L405.2,184.1L404.1,184.4L403.9,185.9Z"/>
<path fill="#edf8fb" d="M403.9,185.9L404.1,184.4L405.2,184.1L406.4,185.9L406.3,187.5L407.5,188.6L407.0,190.6L405.6,191.6L404.2,190.0L404.2,187.5Z"/>
<path fill="#edf8fb" d="M406.4,185.9L408.4,185.0L410.1,184.9L411.5,186.4L411.4,187.3L409.5,187.8L407.5,188.6L406.3,187.5Z"/>
<path fill="#bfd3e6" d="M405.6,191.6L407.0,190.6L407.5,188.6L409.5,187.8L411.4,187.3L413.7,186.9L416.5,187.6L418.1,187.3L418.6,186.4L419.2,187.5L418.1,188.9L415.9,188.5L413.9,189.0L414.9,190.4L413.4,190.8L411.6,189.5L411.1,190.8L412.5,192.9L412.0,193.7L414.5,195.5L414.6,196.8L412.4,196.3L413.0,197.8L412.9,199.9L411.7,200.2L409.9,199.2L408.6,196.5L409.8,195.2L408.2,195.0L407.3,193.7L406.1,191.9ZM414.2,202.3L416.2,202.8L420.2,203.1L417.4,204.1L414.3,203.3Z"/>
<path fill="#bfd3e6" d="M410.2,180.0L410.9,181.0L414.1,181.3L416.2,181.4L419.1,180.2L422.5,181.1L421.4,183.1L421.2,184.6L421.9,185.6L419.8,185.4L418.6,186.4L418.1,187.3L416.5,187.6L413.7,186.9L411.4,187.3L411.5,186.4L410.1,184.9L410.0,184.6L411.1,182.5L409.7,181.0Z"/>
<path fill="#bfd3e6" d="M404.7,175.0L406.5,174.3L407.8,171.8L409.5,170.2L413.7,171.0L416.9,169.6L417.8,170.0L420.5,173.0L421.2,176.8L424.4,177.4L424.3,178.4L422.6,180.5L422.5,181.1L419.1,180.2L416.2,181.4L414.1,181.3L410.9,181.0L410.2,180.0L410.1,178.9L408.9,179.2L407.3,178.4L407.4,177.4L405.8,176.0Z"/>
<path fill="#edf8fb" d="M416.9,169.6L419.3,169.2L422.1,170.5L424.2,173.3L424.7,174.3L422.6,175.1L421.2,176.8L420.5,173.0L417.8,170.0Z"/>
<path fill="#bfd3e6" d="M407.9,169.2L408.6,167.4L408.6,166.2L409.9,164.2L411.0,163.1L409.8,161.4L412.4,160.4L417.5,161.4L420.4,161.1L423.5,161.9L424.0,160.1L425.7,159.9L429.0,159.3L431.0,160.6L433.4,162.6L434.1,164.2L438.0,164.4L441.0,165.4L443.5,166.2L443.4,168.2L443.7,170.7L441.0,171.5L441.0,172.5L437.9,173.6L435.2,174.6L434.5,175.3L436.1,177.1L438.5,176.9L436.2,177.9L433.6,179.5L432.3,178.9L430.1,176.9L432.0,175.1L428.6,174.1L426.5,173.8L426.0,174.6L424.4,177.4L421.2,176.8L422.6,175.1L424.7,174.3L424.2,173.3L422.1,170.5L419.3,169.2L416.9,169.6L413.7,171.0L409.5,170.2Z"/>
<path fill="#bfd3e6" d="M425.7,159.9L424.0,160.1L423.5,161.9L420.4,161.1L417.5,161.4L412.4,160.4L409.8,161.4L408.7,159.4L409.8,157.6L408.7,155.3L410.5,155.4L412.4,154.4L412.8,152.9L414.1,151.9L414.0,151.0L416.7,149.8L419.3,150.7L422.3,151.2L422.5,153.2L424.7,154.9L426.9,156.6L424.4,157.1L425.7,159.9Z"/>
<path fill="#edf8fb" d="M403.1,150.0L404.9,149.2L410.4,149.2L414.0,151.0L414.1,151.9L412.8,152.9L412.4,154.4L410.5,155.4L408.7,155.3L407.2,154.3L406.8,152.8L404.0,152.1L403.5,151.9Z"/>
<path fill="#edf8fb" d="M403.1,150.0L403.0,148.3L403.7,146.4L405.6,146.1L406.9,147.5L408.7,147.8L408.8,145.7L409.9,145.3L411.9,145.8L414.6,146.4L415.6,147.3L415.6,148.3L416.7,149.8L414.0,151.0L410.4,149.2L404.9,149.2Z"/>
<path fill="#edf8fb" d="M408.8,145.7L408.8,144.4L406.8,143.6L406.5,142.4L408.9,141.7L411.1,141.5L414.9,141.8L414.1,143.4L414.5,144.9L414.6,146.4L411.9,145.8L409.9,145.3ZM404.1,144.1L406.0,143.9L405.5,144.9L404.3,145.3Z"/>
<path fill="#8c96c6" d="M414.2,118.0L418.1,118.9L423.3,119.5L427.3,121.3L433.4,124.2L434.5,126.0L432.3,126.3L429.7,126.3L423.3,124.9L418.5,124.0L420.8,125.4L424.0,128.8L424.3,129.9L427.7,131.1L430.0,131.1L429.8,129.2L427.0,128.8L433.4,129.7L432.8,127.6L435.6,125.6L439.3,126.3L438.9,124.2L437.3,122.0L436.0,120.5L438.9,120.9L442.1,122.4L440.0,123.6L442.9,124.5L444.8,122.9L447.8,121.8L450.8,120.9L453.7,120.0L454.4,121.5L456.7,120.9L459.8,120.4L463.0,120.0L463.6,118.0L465.4,119.8L470.9,119.1L476.1,120.9L478.7,121.5L474.8,118.7L472.9,116.1L472.2,114.8L473.9,113.3L473.4,111.4L476.9,110.7L479.6,111.6L480.3,114.3L482.8,116.5L484.8,119.8L488.2,122.0L488.3,124.9L490.5,122.9L488.7,120.9L482.8,113.3L484.7,112.6L487.6,112.2L489.2,113.3L493.1,113.1L496.0,113.7L499.8,116.5L498.6,113.9L492.4,112.2L491.2,110.1L498.7,109.3L498.2,107.0L501.6,105.8L508.2,104.8L514.9,104.0L518.4,101.6L522.4,102.2L526.5,103.6L532.8,103.8L537.0,105.2L541.1,109.1L536.4,109.1L533.5,110.7L538.3,110.1L541.6,109.5L545.0,109.7L551.8,110.7L554.7,111.2L559.5,111.2L563.7,110.1L571.2,112.2L574.4,115.4L576.0,115.4L578.8,114.3L582.6,114.1L587.7,114.3L588.1,112.2L588.1,111.4L596.1,112.2L604.3,112.8L608.1,114.3L612.9,115.4L618.3,115.2L627.5,117.6L631.3,118.5L635.9,118.2L641.4,118.0L642.4,117.6L648.2,119.8L645.4,117.4L651.1,117.8L655.6,118.0L662.6,119.3L665.1,119.8L678.6,128.8L677.5,129.2L677.6,129.9L675.0,129.4L676.5,130.4L683.9,133.4L686.5,135.1L681.4,134.6L679.1,136.2L677.0,138.1L677.2,140.5L671.1,139.3L669.5,141.0L666.4,140.8L666.8,142.9L669.9,145.8L673.5,149.7L674.5,149.7L675.2,152.7L675.9,153.9L675.9,157.1L673.7,157.6L675.4,160.1L674.8,162.9L670.9,160.1L666.3,156.4L662.6,152.7L658.6,148.3L658.3,145.8L660.4,144.4L659.3,141.7L660.2,139.6L659.1,137.0L658.9,134.6L657.9,136.7L656.8,138.8L652.5,136.0L647.4,136.7L650.0,141.7L645.8,142.9L643.6,142.7L638.2,142.0L632.7,142.0L628.3,142.2L627.2,142.9L626.3,145.8L626.1,149.2L626.6,152.7L624.4,153.7L630.1,155.1L631.8,155.9L633.6,154.7L639.1,156.9L641.3,159.6L642.4,162.6L644.4,165.2L646.9,169.0L646.4,172.0L645.6,178.4L644.8,181.3L641.6,183.6L638.9,182.5L637.6,184.9L637.3,184.6L636.8,181.8L634.7,178.2L638.1,177.7L637.6,174.1L637.0,171.0L635.9,169.5L632.8,170.0L632.5,171.0L629.4,171.0L626.5,168.2L622.4,166.7L618.7,165.7L617.8,164.4L610.7,158.9L609.8,157.6L603.8,156.3L599.2,156.9L598.8,158.6L600.7,161.4L601.3,165.2L599.8,166.4L597.0,165.5L594.0,164.7L591.4,164.4L588.3,166.7L584.5,167.2L580.1,166.4L577.3,165.2L572.7,164.2L565.8,161.9L558.3,159.9L557.7,162.6L559.3,165.2L553.3,165.2L547.2,163.1L544.6,163.9L542.6,165.9L539.9,166.4L539.9,167.3L538.9,167.4L534.1,166.2L528.1,162.6L522.3,163.1L515.2,156.9L511.6,155.1L507.2,156.1L505.6,155.1L501.1,154.7L499.6,152.2L495.6,151.9L489.3,154.2L483.5,155.1L481.6,155.4L483.6,157.9L481.8,160.1L485.3,162.1L482.6,163.4L479.3,162.6L474.7,163.7L471.4,162.6L467.0,161.4L463.5,160.9L460.1,163.7L457.3,165.7L457.7,167.2L457.8,169.2L461.6,171.8L463.5,174.3L464.0,174.6L461.7,175.3L460.8,176.1L460.3,178.4L462.4,183.1L465.4,186.0L462.9,187.5L460.8,185.9L457.3,183.8L454.9,184.1L450.8,182.5L446.5,182.0L444.1,180.5L442.3,179.5L440.5,178.7L438.6,177.4L440.7,175.3L441.5,175.1L440.2,173.6L443.2,172.5L441.0,172.5L441.0,171.5L443.7,170.7L443.4,168.2L443.5,166.2L441.0,165.4L438.0,164.4L434.1,164.2L433.4,162.6L431.0,160.6L429.0,159.3L425.7,159.9L424.4,157.1L426.9,156.6L424.7,154.9L422.5,153.2L422.3,151.2L419.3,150.7L416.7,149.8L415.6,148.3L415.6,147.3L414.6,146.4L414.5,144.9L414.1,143.4L414.9,141.8L416.5,140.8L418.7,140.8L416.4,140.0L415.3,139.3L414.0,139.2L415.8,137.4L417.2,135.8L419.6,133.7L416.3,131.8L415.9,129.9L415.2,129.2L414.7,126.5L413.0,124.5L414.1,122.7L411.4,121.5L410.8,120.0L411.5,119.7L412.0,119.1L414.2,118.0ZM61.0,119.8L62.8,121.3L64.1,123.3L68.4,124.5L69.0,126.3L66.0,127.4L60.6,128.8L59.2,130.2L56.9,130.2L54.7,129.2L55.8,127.9L51.7,127.6L51.9,127.0L47.5,128.8ZM401.0,154.0L401.6,152.8L403.5,151.9L404.0,152.1L406.8,152.8L407.2,154.3ZM446.7,113.9L450.0,115.6L454.4,116.3L457.7,116.1L454.4,113.3L452.1,110.5L454.6,108.0L457.4,106.4L462.2,104.6L467.1,103.4L463.9,103.0L460.3,104.2L454.7,104.8L451.2,106.4L449.7,109.1L448.1,110.5L447.6,112.6ZM638.2,154.4L639.3,154.2L643.7,157.6L646.7,161.4L655.2,168.2L650.8,167.2L654.6,172.0L657.5,174.6L654.7,173.6L655.1,175.6L653.4,173.8L651.3,170.2L647.8,165.2L642.7,160.1L639.8,156.6ZM501.5,99.2L503.5,97.4L504.0,95.6L513.9,98.6L517.9,100.5L511.5,101.3L506.4,99.6ZM574.9,106.4L577.3,105.0L586.6,106.0L595.3,106.6L595.5,107.6L585.2,107.0L581.4,107.6ZM583.9,109.3L587.9,109.3L591.3,110.5L587.6,110.7ZM653.7,114.3L656.1,114.3L658.3,115.6L656.7,115.8ZM69.9,114.3L73.3,114.8L71.0,115.6L67.7,115.6ZM443.6,119.1L446.1,118.7L447.2,119.8L445.5,120.4ZM438.2,96.3L443.5,95.8L448.0,96.2L444.3,96.8Z"/>
<path fill="#bfd3e6" d="M418.1,188.9L419.2,187.5L418.6,186.4L419.8,185.4L421.9,185.6L424.3,187.6L422.3,188.2L420.3,189.3L418.7,190.7ZM424.5,187.7L429.0,188.0L433.1,185.6L436.6,185.5L440.1,187.5L444.5,188.4L447.6,188.2L450.6,186.9L452.7,187.1L455.0,188.0L455.9,190.6L458.4,191.6L456.9,192.4L458.2,195.2L458.0,196.3L459.6,198.1L455.6,197.8L454.3,198.4L451.4,198.4L449.4,199.2L445.1,199.2L442.3,199.4L442.2,200.7L441.4,201.6L440.8,201.5L441.2,199.7L439.7,199.7L437.7,199.2L436.0,200.8L434.1,201.2L432.2,199.9L429.1,199.0L428.8,200.6L427.3,200.8L424.6,199.4L422.2,199.4L421.8,197.6L421.0,196.0L419.4,195.2L420.4,194.2L420.5,193.2L418.7,192.1L418.7,190.8L421.4,189.9L424.5,189.5L426.4,188.9L424.6,188.2Z"/>
<path fill="#edf8fb" d="M433.3,203.7L434.7,202.9L438.1,202.0L437.0,203.8L434.9,204.9L433.6,204.5Z"/>
<path fill="#edf8fb" d="M446.5,182.0L450.8,182.5L454.9,184.1L457.3,183.8L460.8,185.9L461.6,188.0L458.1,187.6L455.0,188.0L452.7,187.1L450.6,186.9L450.7,185.4L449.5,183.6Z"/>
<path fill="#bfd3e6" d="M455.0,188.0L458.1,187.6L459.6,188.8L460.5,190.3L462.4,192.9L461.6,193.8L460.0,193.4L458.4,191.6L455.9,190.6Z"/>
<path fill="#bfd3e6" d="M458.1,187.6L461.6,188.0L460.8,185.9L462.9,187.5L465.4,186.0L467.1,188.2L470.0,190.0L468.2,190.3L467.6,192.9L467.8,194.9L465.6,193.7L466.0,192.4L463.3,192.6L461.6,193.8L462.4,192.9L460.5,190.3L459.6,188.8ZM458.4,191.6L460.0,193.4L461.6,193.8L460.0,192.1Z"/>
<path fill="#bfd3e6" d="M358.2,203.6L356.5,203.1L353.2,203.3L351.3,201.5L350.2,201.8L348.2,206.5L344.4,208.3L342.6,210.4L341.4,213.0L341.8,215.9L340.4,218.7L338.3,220.3L334.3,222.4L333.6,223.0L343.7,223.0L343.7,220.3L347.5,218.2L350.8,217.2L355.1,214.6L356.4,212.2L360.2,211.4L360.4,210.4L359.3,208.3L359.3,205.2L358.2,203.6Z"/>
<path fill="#bfd3e6" d="M324.5,239.6L325.6,244.3L326.6,248.3L325.4,253.2L328.8,251.8L331.1,251.9L332.7,253.2L335.1,256.7L336.8,254.5L340.2,255.0L341.8,254.8L350.5,254.8L350.9,252.7L348.4,230.0L352.2,230.0L343.7,224.0L343.6,227.4L336.1,227.4L336.0,234.0L333.7,235.2L333.6,239.6Z"/>
<path fill="#bfd3e6" d="M358.2,203.6L361.9,201.8L365.2,199.9L369.5,199.2L373.8,199.2L377.0,198.4L379.8,198.6L381.6,198.9L381.0,201.2L380.9,204.6L379.4,207.0L381.2,210.4L382.8,211.4L384.0,216.4L385.1,221.3L384.9,226.1L384.1,226.8L385.5,231.3L389.1,231.8L390.0,233.9L380.0,240.7L376.2,244.3L372.7,245.3L370.5,245.6L370.0,243.6L367.1,242.2L365.7,240.2L352.2,230.0L343.7,224.0L343.7,223.0L343.7,220.3L347.5,218.2L350.8,217.2L355.1,214.6L356.4,212.2L360.2,211.4L360.4,210.4L359.3,208.3L359.3,205.2L358.2,203.6Z"/>
<path fill="#bfd3e6" d="M384.0,216.4L382.8,211.4L381.2,210.4L379.4,207.0L380.9,204.6L381.0,201.2L381.6,198.9L384.1,197.8L386.7,198.4L385.8,201.2L387.1,203.3L385.0,205.7L387.3,208.5L388.3,208.7L388.3,210.6L385.7,212.5L385.1,215.6Z"/>
<path fill="#bfd3e6" d="M388.3,208.7L392.0,209.3L396.4,210.6L397.9,213.5L401.7,214.6L405.1,216.1L407.2,214.3L407.2,211.2L410.2,209.3L413.7,210.1L418.4,212.6L417.7,216.9L418.5,219.0L419.5,237.8L419.7,243.0L417.4,243.0L417.5,244.3L396.8,235.2L395.1,236.2L393.4,234.7L390.0,233.9L389.1,231.8L385.5,231.3L384.1,226.8L384.9,226.1L385.1,221.3L384.0,216.4L385.1,215.6L385.7,212.5L388.3,210.6Z"/>
<path fill="#810f7c" d="M419.5,237.8L418.5,219.0L417.7,216.9L418.4,212.6L423.2,213.2L427.1,214.7L429.2,213.5L431.3,212.7L434.3,213.5L438.6,213.5L440.4,218.2L439.7,222.1L439.4,222.8L437.9,221.6L436.6,219.5L435.2,217.0L435.1,217.7L435.9,219.8L438.0,223.4L439.0,225.5L441.6,230.5L443.4,232.8L443.3,234.9L446.4,237.8L419.5,237.8Z"/>
<path fill="#9ebcda" d="M419.5,237.8L446.4,237.8L447.2,240.4L447.6,244.1L448.2,246.4L450.8,248.3L447.3,250.9L446.4,256.1L446.5,257.9L445.7,262.1L443.5,264.5L443.1,267.1L441.8,267.6L441.4,270.5L440.9,268.6L439.2,267.1L438.7,263.4L436.6,263.9L437.4,266.5L434.7,269.7L431.9,268.4L427.4,271.0L423.9,270.5L420.4,268.4L419.3,272.5L417.0,272.5L417.2,269.4L415.6,266.8L414.1,262.1L413.2,262.4L414.5,258.4L414.0,257.4L415.3,254.5L417.6,254.3L417.5,244.3L417.4,243.0L419.7,243.0Z"/>
<path fill="#edf8fb" d="M417.0,272.5L419.3,272.5L420.4,268.4L423.9,270.5L427.4,271.0L431.9,268.4L434.7,269.7L437.4,266.5L436.6,263.9L438.7,263.4L439.2,267.1L440.9,268.6L441.4,270.5L441.4,273.3L438.9,274.6L441.3,276.2L443.6,278.6L445.7,281.4L445.8,283.3L441.4,284.3L439.1,285.1L436.8,286.0L434.1,286.1L432.2,283.8L429.9,283.8L426.1,282.0L423.8,279.6L421.2,276.2L418.2,273.9L417.0,272.5Z"/>
<path fill="#edf8fb" d="M450.8,248.3L447.3,250.9L446.4,256.1L446.5,257.9L449.6,256.4L451.0,257.7L454.5,257.4L457.3,260.0L460.2,262.6L461.8,262.1L460.1,260.8L456.3,256.9L452.7,254.0Z"/>
<path fill="#edf8fb" d="M461.8,262.1L462.3,264.1L460.7,265.2L462.2,265.2L461.5,266.7L458.9,266.5L458.8,265.2L460.2,262.6Z"/>
<path fill="#9ebcda" d="M446.5,257.9L449.6,256.4L451.0,257.7L454.5,257.4L457.3,260.0L460.2,262.6L458.8,265.2L458.9,266.5L461.5,266.7L461.0,267.6L461.8,270.5L464.2,271.8L470.9,274.4L473.4,274.4L466.7,282.2L462.1,283.0L459.8,284.8L459.6,285.0L457.5,285.1L454.1,286.4L450.9,285.9L448.1,283.8L445.8,283.3L445.7,281.4L443.6,278.6L441.3,276.2L438.9,274.6L441.4,273.3L441.4,270.5L441.8,267.6L443.1,267.1L443.5,264.5L445.7,262.1L446.5,257.9Z"/>
<path fill="#bfd3e6" d="M462.2,265.2L464.0,268.0L466.3,268.1L470.9,266.3L475.4,265.8L479.5,264.1L480.6,264.4L480.3,267.8L479.8,270.7L477.6,274.4L473.6,282.2L469.1,288.7L467.5,290.1L463.4,293.7L459.9,297.6L458.9,299.6L457.6,297.6L457.6,288.0L459.6,285.0L459.8,284.8L462.1,283.0L466.7,282.2L473.4,274.4L470.9,274.4L464.2,271.8L461.8,270.5L461.0,267.6L461.5,266.7Z"/>
<path fill="#9ebcda" d="M458.9,299.6L455.7,302.6L453.4,307.5L449.9,304.4L449.7,303.1L441.5,297.9L441.2,295.0L442.6,292.4L443.8,290.3L441.4,284.3L445.8,283.3L448.1,283.8L450.9,285.9L454.1,286.4L457.5,285.1L459.6,285.0L457.6,288.0L457.6,297.6L458.9,299.6Z"/>
<path fill="#bfd3e6" d="M441.5,297.9L441.2,295.0L442.6,292.4L443.8,290.3L441.4,284.3L439.1,285.1L436.8,286.0L434.1,286.1L435.2,289.8L432.2,292.1L432.0,294.0L431.3,296.6L431.3,298.9L433.4,297.9Z"/>
<path fill="#bfd3e6" d="M431.3,298.9L433.4,297.9L434.2,301.3L433.4,301.5L432.0,302.6L429.9,302.3L430.4,299.5Z"/>
<path fill="#edf8fb" d="M429.9,302.3L432.0,302.6L433.4,301.5L434.0,303.9L432.2,306.8L430.8,306.9L430.3,303.9Z"/>
<path fill="#edf8fb" d="M453.4,307.5L452.4,311.0L453.9,313.3L453.4,317.0L454.4,321.1L455.9,322.6L451.3,325.1L449.0,325.8L445.1,325.3L443.2,325.5L442.4,324.0L441.1,320.1L438.9,319.8L436.6,319.0L434.3,317.7L433.7,316.7L432.5,313.6L431.0,311.0L430.8,306.9L432.2,306.8L434.0,303.9L433.4,301.5L434.2,301.3L433.4,297.9L441.5,297.9L449.7,303.1L449.9,304.4L453.4,307.5Z"/>
<path fill="#8c96c6" d="M391.1,310.4L391.5,311.0L393.9,310.6L401.2,310.7L402.1,314.3L406.7,316.2L407.7,313.6L410.2,313.6L413.2,314.3L413.3,320.1L414.2,324.3L418.1,323.8L418.8,324.8L421.1,324.5L421.3,325.8L424.7,326.4L425.4,325.6L428.1,327.9L429.4,330.3L431.2,330.4L431.3,327.0L428.1,326.1L428.4,323.2L428.7,319.6L429.5,317.5L433.7,316.7L431.0,311.0L430.8,306.9L430.3,303.9L429.9,302.3L430.4,299.5L431.3,298.9L431.3,296.6L432.0,294.0L432.2,292.1L435.2,289.8L434.1,286.1L432.2,283.8L429.9,283.8L426.1,282.0L421.8,281.7L419.2,282.0L415.8,283.0L414.7,284.6L410.5,283.8L407.9,282.0L405.9,284.0L405.9,286.1L404.8,289.5L404.1,294.5L403.6,296.8L400.4,300.5L400.4,303.1L399.7,305.7L398.0,306.8L396.2,308.1L396.2,306.5L393.9,307.8L393.2,307.4L392.0,308.3Z"/>
<path fill="#9ebcda" d="M391.5,311.0L392.5,313.6L393.4,318.3L394.7,324.0L393.7,327.9L391.1,332.6L390.6,335.0L389.8,340.3L393.8,339.7L394.9,340.7L405.1,340.7L411.7,342.0L416.3,341.3L413.2,337.6L413.4,329.2L418.0,329.2L418.1,323.8L414.2,324.3L413.3,320.1L413.2,314.3L410.2,313.6L407.7,313.6L406.7,316.2L402.1,314.3L401.2,310.7L393.9,310.6L391.5,311.0ZM390.7,308.3L391.1,310.4L392.0,308.3L393.2,307.4L392.3,306.8Z"/>
<path fill="#bfd3e6" d="M418.1,323.8L418.0,329.2L413.4,329.2L413.2,337.6L416.3,341.3L420.5,341.8L422.1,342.3L424.4,342.0L428.9,337.1L432.4,336.0L432.0,333.9L439.0,331.8L438.1,330.5L438.6,327.9L439.4,325.6L438.8,321.4L438.9,319.8L436.6,319.0L434.3,317.7L433.7,316.7L429.5,317.5L428.7,319.6L428.4,323.2L428.1,326.1L431.3,327.0L431.2,330.4L429.4,330.3L428.1,327.9L425.4,325.6L424.7,326.4L421.3,325.8L421.1,324.5L418.8,324.8L418.1,323.8Z"/>
<path fill="#edf8fb" d="M438.9,319.8L441.1,320.1L442.4,324.0L443.2,325.5L442.3,327.9L441.8,330.3L445.0,334.2L444.7,337.1L443.4,339.9L441.2,337.9L441.8,334.5L442.1,332.9L439.0,331.8L438.1,330.5L438.6,327.9L439.4,325.6L438.8,321.4L438.9,319.8Z"/>
<path fill="#bfd3e6" d="M455.9,322.6L456.0,327.9L456.3,333.7L454.2,337.6L449.5,340.5L446.9,342.0L443.1,346.2L442.0,347.1L442.8,351.4L443.0,355.4L442.7,358.0L437.1,361.4L436.0,363.2L436.6,365.4L434.8,365.4L434.7,362.9L434.8,359.3L433.7,353.8L436.5,350.9L437.8,347.0L437.3,343.9L438.1,340.5L438.0,338.9L434.9,337.6L432.4,336.0L432.0,333.9L439.0,331.8L442.1,332.9L441.8,334.5L441.2,337.9L443.4,339.9L444.7,337.1L445.0,334.2L441.8,330.3L442.3,327.9L443.2,325.5L445.1,325.3L449.0,325.8L451.3,325.1L455.9,322.6Z"/>
<path fill="#bfd3e6" d="M420.5,341.8L422.1,342.3L424.4,342.0L428.9,337.1L432.4,336.0L434.9,337.6L438.0,338.9L438.1,340.5L437.3,343.9L437.8,347.0L436.5,350.9L433.7,353.8L429.4,353.3L426.3,351.7L425.7,348.8L422.4,346.5L420.5,341.8Z"/>
<path fill="#edf8fb" d="M420.5,341.8L422.4,346.5L425.7,348.8L426.3,351.7L429.4,353.3L423.8,356.9L421.2,359.8L420.2,362.4L414.6,361.4L411.5,365.4L409.3,365.4L407.9,359.9L408.2,352.7L410.4,352.7L410.7,343.1L416.2,342.3L418.7,342.3L420.5,341.8Z"/>
<path fill="#edf8fb" d="M389.8,340.3L391.4,344.4L393.3,349.9L395.7,355.1L395.6,359.3L396.6,364.8L399.6,370.0L401.1,368.7L402.1,370.5L405.2,370.8L407.5,369.5L407.9,359.9L408.2,352.7L410.4,352.7L410.7,343.1L416.2,342.3L418.7,342.3L420.5,341.8L418.5,341.0L416.3,341.3L411.7,342.0L405.1,340.7L394.9,340.7L393.8,339.7L389.8,340.3Z"/>
<path fill="#bfd3e6" d="M399.6,370.0L400.9,373.6L402.4,378.9L403.2,380.7L403.2,384.1L403.4,385.0L406.6,386.3L411.3,384.4L414.3,384.1L418.9,384.1L422.1,382.8L424.4,381.2L429.2,376.8L431.7,373.4L434.2,370.2L435.7,368.4L436.6,365.4L434.8,365.4L434.7,362.9L434.8,359.3L433.7,353.8L429.4,353.3L423.8,356.9L421.2,359.8L420.2,362.4L414.6,361.4L411.5,365.4L409.3,365.4L407.9,359.9L407.5,369.5L405.2,370.8L402.1,370.5L401.1,368.7L399.6,370.0Z"/>
<path fill="#edf8fb" d="M422.9,372.6L425.3,370.2L427.3,370.5L428.2,372.6L426.0,375.2L423.7,374.4Z"/>
<path fill="#edf8fb" d="M431.9,365.3L432.9,362.7L434.5,362.9L434.8,365.3L432.9,366.6Z"/>
<path fill="#bfd3e6" d="M476.0,326.5L478.1,335.2L478.2,336.8L476.6,337.1L475.4,342.3L472.5,350.1L470.2,356.7L468.8,360.3L464.1,362.2L461.4,356.9L460.8,352.2L463.4,347.5L463.0,343.6L463.2,339.7L465.4,337.6L468.7,336.3L472.6,331.8L474.8,328.7Z"/>
<path fill="#bfd3e6" d="M325.4,253.2L323.0,256.7L324.6,259.2L324.6,259.7L328.7,259.2L331.4,259.9L331.4,260.8L328.7,260.5L324.5,260.9L324.6,263.0L328.6,262.2L331.6,262.2L336.9,262.9L335.1,256.7L332.7,253.2L331.1,251.9L328.8,251.8L325.4,253.2Z"/>
<path fill="#bfd3e6" d="M324.6,259.7L328.7,259.2L331.4,259.9L331.4,260.8L328.7,260.5L324.5,260.9Z"/>
<path fill="#edf8fb" d="M324.6,263.0L328.6,262.2L331.6,262.2L331.6,264.7L329.1,266.3L328.6,266.7L326.8,264.7L325.6,263.9Z"/>
<path fill="#bfd3e6" d="M339.3,273.1L338.6,271.5L337.3,269.2L334.3,269.4L332.4,271.6L333.1,273.9L334.2,275.9L336.5,277.3L338.6,274.9Z"/>
<path fill="#bfd3e6" d="M336.5,277.3L338.1,278.8L342.3,282.2L345.6,283.9L346.0,280.9L343.7,278.6L343.9,276.5L343.5,275.4L341.4,275.9L339.3,273.1L338.6,274.9Z"/>
<path fill="#edf8fb" d="M345.6,283.9L349.2,282.7L353.8,281.6L355.9,282.0L355.6,277.5L357.3,273.9L356.6,269.9L352.2,269.9L350.4,268.1L348.8,267.6L346.9,268.6L344.6,268.6L345.3,270.7L344.2,273.1L343.5,275.4L343.9,276.5L343.7,278.6L346.0,280.9L345.6,283.9Z"/>
<path fill="#9ebcda" d="M355.9,282.0L358.4,282.9L363.0,280.6L365.8,279.3L364.2,277.0L364.4,273.1L363.0,267.6L362.7,266.3L356.6,266.5L356.6,269.9L357.3,273.9L355.6,277.5L355.9,282.0Z"/>
<path fill="#bfd3e6" d="M365.8,279.3L364.2,277.0L364.4,273.1L363.0,267.6L362.7,266.3L365.1,266.5L364.8,268.1L366.7,271.8L366.8,279.1Z"/>
<path fill="#edf8fb" d="M366.8,279.1L369.2,278.7L369.4,271.8L371.3,268.6L371.3,264.7L368.5,263.4L368.5,264.2L365.3,266.3L365.1,266.5L364.8,268.1L366.7,271.8Z"/>
<path fill="#bfd3e6" d="M350.4,268.1L352.2,269.9L356.6,269.9L356.6,266.5L362.7,266.3L365.1,266.5L365.3,266.3L368.5,264.2L367.8,262.1L365.3,261.3L363.5,256.2L361.4,256.0L358.4,258.3L355.7,260.0L353.2,260.8L352.9,263.1L350.9,264.5L350.4,268.1Z"/>
<path fill="#bfd3e6" d="M335.1,256.7L336.8,254.5L340.2,255.0L341.8,254.8L350.5,254.8L350.9,252.7L348.4,230.0L352.2,230.0L365.7,240.2L367.1,242.2L370.0,243.6L370.5,245.6L372.7,245.3L372.6,251.1L371.0,255.0L366.0,255.3L363.5,256.2L361.4,256.0L358.4,258.3L355.7,260.0L353.2,260.8L352.9,263.1L350.9,264.5L350.4,268.1L348.8,267.6L346.9,268.6L344.6,268.6L344.0,266.5L342.4,262.9L339.4,263.4L336.9,262.9L335.1,256.7Z"/>
<path fill="#bfd3e6" d="M363.5,256.2L366.0,255.3L371.0,255.0L372.6,251.1L372.7,245.3L376.2,244.3L380.0,240.7L390.0,233.9L393.4,234.7L395.1,236.2L396.8,235.2L399.0,242.0L398.3,251.1L394.1,257.4L394.1,259.5L391.6,261.1L385.9,260.5L381.3,260.5L378.6,261.3L375.6,259.0L372.4,260.0L371.3,264.7L368.5,263.4L368.5,264.2L367.8,262.1L365.3,261.3Z"/>
<path fill="#bfd3e6" d="M369.2,278.7L373.1,278.8L374.5,280.1L375.5,282.2L377.1,284.0L380.3,283.8L382.6,283.1L383.3,280.1L386.0,277.3L389.0,277.8L390.2,276.5L392.4,272.8L393.6,269.2L395.6,265.8L396.5,263.4L395.3,261.3L394.1,259.5L391.6,261.1L385.9,260.5L381.3,260.5L378.6,261.3L375.6,259.0L372.4,260.0L371.3,264.7L371.3,268.6L369.4,271.8Z"/>
<path fill="#bfd3e6" d="M382.6,283.1L385.4,285.1L385.6,289.1L385.6,289.5L389.1,289.5L393.7,289.5L400.1,289.5L400.4,290.8L400.1,287.7L397.6,285.1L396.4,282.2L396.6,279.1L398.7,275.7L397.5,273.1L395.0,270.2L398.6,269.2L397.4,266.8L397.2,263.4L395.3,261.3L396.5,263.4L395.6,265.8L393.6,269.2L392.4,272.8L390.2,276.5L389.0,277.8L386.0,277.3L383.3,280.1L382.6,283.1Z"/>
<path fill="#edf8fb" d="M385.6,289.1L384.7,292.7L385.6,292.7L389.1,292.7L389.1,289.5L385.6,289.5Z"/>
<path fill="#edf8fb" d="M385.6,292.7L384.5,294.2L383.3,297.1L384.9,301.3L386.1,302.6L388.6,305.6L390.5,304.4L389.8,302.1L391.8,301.0L392.5,300.2L396.2,301.3L396.2,298.7L395.1,294.5L396.2,291.9L393.7,291.9L393.7,289.5L389.1,289.5L389.1,292.7Z"/>
<path fill="#bfd3e6" d="M388.6,305.6L390.7,308.3L392.3,306.8L393.2,307.4L393.9,307.8L396.2,306.5L396.2,308.1L398.0,306.8L399.7,305.7L400.4,303.1L400.4,300.5L403.6,296.8L404.1,294.5L404.8,289.5L405.9,286.1L403.4,285.9L401.3,286.1L400.4,290.8L400.1,289.5L393.7,289.5L393.7,291.9L396.2,291.9L395.1,294.5L396.2,298.7L396.2,301.3L392.5,300.2L391.8,301.0L389.8,302.1L390.5,304.4L388.6,305.6Z"/>
<path fill="#bfd3e6" d="M398.7,275.7L402.1,275.2L405.8,274.1L406.7,271.8L409.9,271.5L412.8,267.6L415.6,266.8L417.2,269.4L417.0,272.5L418.2,273.9L421.2,276.2L423.8,279.6L426.1,282.0L421.8,281.7L419.2,282.0L415.8,283.0L414.7,284.6L410.5,283.8L407.9,282.0L405.9,284.0L405.9,286.1L403.4,285.9L401.3,286.1L400.4,290.8L400.1,287.7L397.6,285.1L396.4,282.2L396.6,279.1L398.7,275.7Z"/>
<path fill="#bfd3e6" d="M396.8,235.2L417.5,244.3L417.6,254.3L415.3,254.5L414.0,257.4L414.5,258.4L413.2,262.4L414.1,262.1L415.6,266.8L412.8,267.6L409.9,271.5L406.7,271.8L405.8,274.1L402.1,275.2L398.7,275.7L397.5,273.1L395.0,270.2L398.6,269.2L397.4,266.8L397.2,263.4L395.3,261.3L394.1,259.5L394.1,257.4L398.3,251.1L399.0,242.0L396.8,235.2Z"/>
<path fill="#edf8fb" d="M462.1,325.1L462.8,325.6L462.3,326.4ZM464.3,326.9L465.2,327.1L464.8,327.7ZM466.1,328.5L466.8,328.7L466.3,329.2Z"/>
<path fill="#edf8fb" d="M493.1,347.8L494.0,348.0L493.5,348.8ZM488.2,349.9L489.2,350.4L488.5,351.2Z"/>
<path fill="#bfd3e6" d="M538.9,167.4L534.1,166.2L528.1,162.6L522.3,163.1L515.2,156.9L511.6,155.1L507.2,156.1L505.6,155.1L501.1,154.7L499.6,152.2L495.6,151.9L489.3,154.2L483.5,155.1L481.6,155.4L483.6,157.9L481.8,160.1L485.3,162.1L482.6,163.4L479.3,162.6L474.7,163.7L471.4,162.6L467.0,161.4L463.5,160.9L460.1,163.7L457.3,165.7L457.7,167.2L457.8,169.2L461.6,171.8L463.5,174.3L464.0,174.6L467.6,172.8L471.4,173.3L472.8,177.1L468.9,177.1L468.8,179.2L467.5,179.7L469.6,182.5L473.2,184.4L473.4,186.3L476.5,184.9L480.0,187.5L481.3,187.5L478.8,177.9L483.8,176.4L490.0,180.0L492.4,181.8L497.5,181.5L500.8,183.3L502.1,185.6L503.8,187.7L507.0,188.5L508.5,189.3L510.6,186.7L512.2,185.0L517.3,184.6L517.7,182.5L521.7,183.3L528.5,183.6L531.6,185.1L531.0,183.1L531.9,182.5L529.1,178.4L533.4,177.4L532.7,176.6L532.4,172.3L537.6,172.5L536.5,169.2L538.9,167.4Z"/>
<path fill="#bfd3e6" d="M481.3,187.5L478.8,177.9L483.8,176.4L490.0,180.0L492.4,181.8L497.5,181.5L500.8,183.3L502.1,185.6L503.8,187.7L507.0,188.5L508.5,189.3L510.6,186.7L512.2,185.0L514.9,186.9L517.8,188.8L515.6,190.3L512.3,189.5L509.8,188.8L509.6,190.3L507.9,191.9L506.7,192.1L509.8,195.5L509.1,198.1L506.2,197.7L504.7,196.0L499.8,193.4L495.9,190.8L493.9,188.0L489.9,187.2L489.1,185.1L485.8,183.8L483.4,187.5L481.3,187.5Z"/>
<path fill="#bfd3e6" d="M473.4,186.3L475.1,188.2L475.5,190.8L477.2,192.6L479.1,197.7L481.1,196.0L485.9,195.5L489.5,197.1L492.5,198.9L495.3,199.7L496.0,202.3L499.2,203.1L502.6,200.5L504.4,197.3L506.2,197.7L504.7,196.0L499.8,193.4L495.9,190.8L493.9,188.0L489.9,187.2L489.1,185.1L485.8,183.8L483.4,187.5L481.3,187.5L480.0,187.5L476.5,184.9L473.4,186.3Z"/>
<path fill="#bfd3e6" d="M512.2,185.0L517.3,184.6L517.7,182.5L521.7,183.3L528.5,183.6L531.6,185.1L528.6,187.5L525.7,188.2L524.3,189.8L521.8,189.8L520.1,191.3L520.1,192.3L516.6,192.4L513.2,191.9L510.5,191.1L511.7,190.3L512.3,189.5L515.6,190.3L517.8,188.8L514.9,186.9L512.2,185.0Z"/>
<path fill="#bfd3e6" d="M509.1,198.1L509.8,195.5L506.7,192.1L507.9,191.9L509.6,190.3L509.8,188.8L512.3,189.5L511.7,190.3L510.5,191.1L513.2,191.9L516.6,192.4L520.1,192.3L521.3,194.7L523.6,195.0L524.4,198.0L520.8,197.6L517.7,199.4L516.4,196.3L513.8,196.3L512.8,198.2L509.7,198.6L509.1,198.1Z"/>
<path fill="#9ebcda" d="M496.0,202.3L499.2,203.1L502.6,200.5L504.4,197.3L506.2,197.7L509.1,198.1L509.7,198.6L512.8,198.2L513.8,196.3L516.4,196.3L517.7,199.4L520.8,197.6L524.4,198.0L522.8,199.2L517.9,200.5L518.0,204.1L518.1,206.5L516.0,206.7L517.0,208.3L515.7,210.4L515.6,211.9L512.8,212.5L509.7,214.6L509.7,217.3L505.0,218.2L501.7,218.5L497.9,217.3L499.5,214.3L497.0,213.0L495.8,208.5L496.0,205.2L496.0,202.3Z"/>
<path fill="#bfd3e6" d="M497.9,217.3L500.7,220.6L502.9,221.6L503.3,224.2L504.4,224.5L504.4,225.8L501.6,226.8L501.3,229.4L506.6,229.2L512.2,228.9L513.5,230.5L514.9,232.8L516.6,233.4L517.7,231.8L522.6,231.5L519.9,228.1L520.0,225.8L518.2,224.2L519.9,222.1L523.3,222.4L525.1,219.0L526.5,215.9L527.7,214.0L526.9,211.7L528.7,210.9L525.9,209.1L524.0,205.7L526.4,204.9L530.5,203.8L531.9,202.5L527.7,201.5L527.0,199.7L524.4,198.0L522.8,199.2L517.9,200.5L518.0,204.1L518.1,206.5L516.0,206.7L517.0,208.3L515.7,210.4L515.6,211.9L512.8,212.5L509.7,214.6L509.7,217.3L505.0,218.2L501.7,218.5L497.9,217.3Z"/>
<path fill="#810f7c" d="M531.9,202.5L530.5,203.8L526.4,204.9L524.0,205.7L525.9,209.1L528.7,210.9L526.9,211.7L527.7,214.0L526.5,215.9L525.1,219.0L523.3,222.4L519.9,222.1L518.2,224.2L520.0,225.8L519.9,228.1L522.6,231.5L517.7,231.8L516.6,233.4L518.7,236.8L522.6,240.9L526.1,239.9L526.7,237.3L527.5,240.4L528.3,245.6L530.0,250.9L531.5,254.8L534.3,261.3L536.9,266.0L538.3,269.4L540.1,273.6L541.4,274.2L542.8,272.0L544.8,271.0L546.5,268.4L546.3,266.5L546.9,261.1L545.9,255.3L547.9,254.0L550.6,251.7L552.5,249.0L555.9,244.6L559.0,242.5L559.9,240.4L561.9,238.6L564.1,238.3L563.1,234.7L561.0,231.0L562.5,229.2L560.8,226.3L564.2,227.4L564.5,229.2L570.0,229.7L570.5,231.5L568.2,232.6L569.1,235.2L570.6,233.6L572.2,237.8L573.4,237.3L572.9,232.6L575.5,228.9L576.0,225.8L579.4,222.9L579.7,221.6L576.1,218.5L573.0,218.7L568.2,222.7L568.9,225.1L563.8,225.5L561.7,225.0L561.5,224.0L560.9,221.9L559.4,222.4L560.4,226.3L553.1,225.8L549.0,223.7L543.4,221.3L541.1,220.0L541.5,217.4L542.3,216.4L537.3,213.8L535.9,210.4L537.4,209.6L535.1,205.7L532.3,202.5L531.9,202.5Z"/>
<path fill="#bfd3e6" d="M542.3,216.4L541.5,217.4L541.1,220.0L543.4,221.3L549.0,223.7L553.1,225.8L560.4,226.3L559.4,222.4L544.5,216.1L549.7,219.8L554.7,222.1Z"/>
<path fill="#edf8fb" d="M561.5,224.0L563.0,221.6L567.3,222.7L568.9,225.1L563.8,225.5L561.7,225.0Z"/>
<path fill="#810f7c" d="M564.1,238.3L563.1,234.7L561.0,231.0L562.5,229.2L560.8,226.3L564.2,227.4L564.5,229.2L570.0,229.7L570.5,231.5L568.2,232.6L569.1,235.2L570.6,233.6L572.2,237.8L572.4,239.6L572.0,241.2L570.2,237.0L567.3,235.7L567.0,238.1Z"/>
<path fill="#bfd3e6" d="M546.6,269.7L549.7,273.1L551.5,276.2L551.1,278.3L548.7,279.9L547.0,277.5L546.6,274.4Z"/>
<path fill="#edf8fb" d="M572.0,241.2L574.6,243.6L577.5,248.3L578.1,253.5L580.7,254.3L583.5,251.1L585.5,252.2L586.5,256.6L587.8,260.0L589.1,264.5L589.4,269.2L590.2,266.8L591.4,264.5L589.9,260.8L587.3,255.6L587.9,253.2L584.6,248.5L585.2,246.7L585.2,243.8L589.8,242.1L591.7,239.0L589.0,238.9L587.0,237.5L586.2,234.9L582.7,232.8L582.6,230.0L584.2,227.6L583.2,223.2L580.2,220.8L579.7,221.6L579.4,222.9L576.0,225.8L575.5,228.9L572.9,232.6L573.4,237.3L572.2,237.8L572.4,239.6Z"/>
<path fill="#8856a7" d="M589.8,242.1L585.2,243.8L585.2,246.7L584.6,248.5L587.9,253.2L587.3,255.6L589.9,260.8L591.4,264.5L590.2,266.8L589.4,269.2L589.1,274.4L591.3,276.2L593.5,278.4L595.9,280.4L597.5,280.1L598.1,279.0L595.5,277.3L594.1,276.2L593.0,273.1L591.2,271.0L590.8,267.8L592.1,263.9L592.0,260.5L594.0,260.3L594.4,262.4L597.5,263.4L599.0,264.8L597.8,262.1L597.4,259.7L598.6,258.2L602.6,257.7L603.6,257.9L604.1,254.5L601.9,252.2L601.3,249.6L599.2,247.5L597.2,248.3L595.1,247.7L593.1,249.6L592.8,244.3L591.0,244.3L589.8,242.1Z"/>
<path fill="#edf8fb" d="M589.8,242.1L591.7,239.0L593.3,239.9L593.6,236.8L596.0,240.2L599.7,242.0L599.0,244.6L602.0,246.4L605.6,250.9L608.5,255.3L608.7,256.9L605.4,257.7L603.6,257.9L604.1,254.5L601.9,252.2L601.3,249.6L599.2,247.5L597.2,248.3L595.1,247.7L593.1,249.6L592.8,244.3L591.0,244.3L589.8,242.1Z"/>
<path fill="#9ebcda" d="M593.6,236.8L596.5,236.0L600.3,234.4L603.7,235.7L603.8,237.8L607.2,239.1L604.6,241.2L603.2,244.3L603.1,246.2L605.6,249.6L609.8,253.2L612.6,258.7L613.6,261.8L613.5,264.7L609.8,267.8L608.2,268.1L607.7,270.5L605.1,272.5L604.0,272.8L604.0,269.2L602.9,268.1L604.2,266.7L606.3,266.5L605.9,264.7L609.4,263.1L608.7,256.9L608.5,255.3L605.6,250.9L602.0,246.4L599.0,244.6L599.7,242.0L596.0,240.2L593.6,236.8Z"/>
<path fill="#bfd3e6" d="M603.6,257.9L602.6,257.7L598.6,258.2L597.4,259.7L597.8,262.1L599.0,264.8L599.6,266.8L600.9,267.8L602.9,268.1L604.2,266.7L606.3,266.5L605.9,264.7L609.4,263.1L608.7,256.9L605.4,257.7L603.6,257.9Z"/>
<path fill="#edf8fb" d="M598.1,279.0L597.5,280.1L595.9,280.4L593.5,278.4L594.3,280.9L595.1,284.3L596.6,287.7L598.8,289.5L601.8,291.9L603.4,291.8L603.3,288.7L601.4,286.1L601.3,283.5L600.1,280.6ZM615.9,289.9L617.5,290.8L620.0,289.0L623.6,286.9L625.8,283.8L626.0,283.3L627.2,284.8L628.8,284.0L628.3,282.5L628.9,282.2L630.4,279.6L631.7,277.0L634.0,278.6L635.0,280.0L637.7,281.4L635.5,283.8L634.1,284.4L630.4,284.0L629.4,286.9L628.2,288.5L627.2,291.4L623.7,291.4L621.9,291.6L619.1,292.7L617.5,292.9L615.9,289.9Z"/>
<path fill="#edf8fb" d="M626.0,283.3L628.3,282.5L628.8,284.0L627.2,284.8Z"/>
<path fill="#810f7c" d="M615.9,289.9L617.5,292.9L619.1,292.7L621.9,291.6L623.7,291.4L627.2,291.4L628.2,288.5L629.4,286.9L630.4,284.0L634.1,284.4L634.7,287.4L637.3,292.4L634.8,293.2L633.9,297.4L631.8,299.2L631.0,302.9L630.5,304.7L627.4,306.0L627.0,304.2L623.6,303.6L620.8,304.4L617.2,302.9L616.8,298.7L614.8,296.6L614.5,294.5L614.3,292.1ZM582.6,280.6L587.7,281.7L589.6,283.8L591.3,285.9L594.3,288.2L597.2,290.6L600.7,293.2L602.5,295.3L601.8,297.9L604.1,300.2L607.5,303.1L607.1,306.5L606.7,310.4L603.9,310.7L603.4,308.3L600.4,306.5L598.9,305.5L596.0,301.5L594.7,297.9L591.7,294.5L590.7,290.8L587.2,287.2L584.5,284.3L582.4,281.4ZM605.2,313.0L607.2,310.7L609.2,311.0L612.8,312.8L617.2,313.3L618.6,312.0L622.2,313.3L626.2,315.4L626.3,318.0L622.9,317.0L618.3,316.7L613.8,315.4L610.4,315.4L607.9,314.6ZM626.4,316.4L629.1,317.2L627.9,318.3ZM629.8,317.2L631.4,317.2L630.8,318.5L629.7,318.3ZM631.6,317.2L634.4,316.7L636.9,317.5L636.4,318.3L632.0,318.8ZM638.8,317.2L642.4,317.5L645.9,316.7L645.4,317.7L638.9,318.3ZM636.5,320.1L638.8,319.8L640.5,321.4L638.6,322.2L636.4,320.9ZM646.6,322.2L647.0,320.4L648.9,319.3L650.4,318.5L650.5,320.1L648.7,321.7ZM641.7,291.9L644.5,292.7L648.0,292.9L651.4,290.8L651.9,291.6L650.3,294.0L647.5,294.5L643.4,294.0L640.6,294.2L639.9,296.1L640.3,297.6L642.2,298.9L643.6,297.6L647.5,296.8L647.7,297.6L646.3,297.9L643.8,300.2L645.3,303.9L647.0,305.7L646.3,306.8L644.2,307.8L643.0,307.6L642.1,302.6L640.6,304.4L640.4,309.6L638.3,309.9L638.5,304.4L637.0,302.6L638.5,298.4L639.5,295.3L639.9,293.4ZM657.2,292.7L658.3,289.8L659.9,291.4L658.4,293.7L660.2,294.5L658.4,297.1L657.7,295.3ZM658.2,303.4L661.7,302.6L664.6,303.6L662.7,304.7L658.6,304.4ZM653.6,303.6L655.9,303.6L656.3,304.9L654.0,305.2ZM665.0,297.4L668.8,296.3L672.2,297.4L672.8,300.5L673.8,303.9L676.7,301.3L680.9,299.2L684.8,301.0L688.2,302.1L687.1,319.0L684.8,316.4L680.4,317.2L682.5,313.6L680.9,309.6L676.5,307.3L671.9,305.5L669.6,306.0L669.2,303.9L667.4,302.6L670.9,301.5L667.5,300.5L665.2,298.9ZM672.2,310.2L673.5,310.7L672.9,313.0L672.0,312.0Z"/>
<path fill="#edf8fb" d="M650.4,318.5L652.8,317.5L655.8,317.2L653.8,318.8L650.5,320.1Z"/>
<path fill="#edf8fb" d="M688.2,302.1L691.6,303.6L696.2,305.2L699.0,308.9L701.6,311.0L703.4,311.0L703.3,312.8L701.4,313.0L703.5,316.2L706.6,320.1L709.3,322.2L709.4,323.2L706.3,322.4L701.3,320.1L698.8,316.7L695.5,315.4L693.1,317.0L691.7,319.3L687.1,319.0ZM704.7,309.9L708.7,308.3L712.2,306.2L714.1,306.2L713.2,309.1L709.6,311.5L706.2,311.5ZM710.8,302.1L714.6,304.7L715.6,307.6L714.8,306.2L711.2,303.1ZM719.4,309.4L722.0,312.3L721.0,313.3L719.6,311.0Z"/>
<path fill="#edf8fb" d="M730.1,319.6L732.4,320.9L730.6,321.1ZM732.6,317.2L733.7,319.6L732.8,319.6ZM727.7,315.1L730.5,317.2L729.6,317.5ZM723.5,313.0L725.7,314.6L724.8,314.9ZM733.5,321.9L735.6,323.2L734.4,323.5Z"/>
<path fill="#edf8fb" d="M743.7,333.9L744.7,335.8L743.7,336.3ZM744.7,337.1L745.5,338.4L744.6,338.6Z"/>
<path fill="#edf8fb" d="M734.7,347.8L737.5,349.9L740.0,353.5L738.6,353.5L735.2,350.1Z"/>
<path fill="#edf8fb" d="M766.6,340.7L769.4,341.3L768.4,342.8L766.2,342.6ZM770.0,338.9L773.5,337.6L772.7,339.2L770.3,339.7Z"/>
<path fill="#810f7c" d="M637.0,246.9L640.7,246.9L642.0,250.9L640.5,254.0L641.3,257.9L643.8,257.9L646.7,259.2L647.4,262.4L645.4,261.3L643.7,260.3L641.4,259.0L639.0,259.2L638.7,257.4L637.2,256.1L636.2,252.7L637.5,253.5L637.0,249.6ZM638.4,260.3L640.5,260.3L641.4,262.4L640.8,263.4L639.8,262.1ZM637.2,265.5L637.6,267.6L635.4,271.0L632.6,273.3L632.8,273.9L634.2,271.2L636.7,268.1ZM642.5,264.2L645.4,265.2L644.5,267.8L642.9,267.8ZM644.2,269.4L645.5,271.5L646.4,271.0L646.5,266.8L645.1,266.8ZM648.2,265.5L649.8,266.0L650.5,268.6L649.4,268.6ZM647.8,262.6L650.1,262.6L651.4,266.0L649.8,265.8ZM643.9,277.0L644.4,274.4L647.0,272.5L650.0,273.1L651.3,269.7L653.5,273.1L654.4,276.2L653.6,278.8L652.4,277.0L651.9,280.6L649.0,279.1L648.4,275.9L646.8,275.9L645.6,275.9Z"/>
<path fill="#810f7c" d="M657.6,185.6L656.1,182.3L655.2,176.6L659.8,179.5L664.8,179.7L667.4,182.3L664.5,185.6L659.8,184.1L659.8,186.2L658.8,186.9ZM661.5,187.2L665.8,192.1L665.5,195.5L667.1,198.9L668.4,202.0L667.5,204.1L666.3,202.5L665.4,204.9L661.5,204.9L661.7,205.7L660.2,207.9L657.7,205.7L654.1,205.4L651.4,206.7L648.9,206.5L648.7,205.4L651.2,202.8L654.9,202.3L658.0,202.0L658.1,199.2L658.5,197.3L658.8,199.2L661.2,197.6L661.9,194.7L660.7,190.8L659.5,188.8L660.2,187.7ZM652.7,207.2L653.4,206.2L656.4,205.7L657.4,207.0L656.9,208.3L654.8,208.0L654.8,209.6L653.3,209.1ZM649.0,206.7L651.1,207.5L652.6,209.6L652.8,213.2L651.6,214.3L650.2,213.5L649.2,210.9L647.8,210.1L646.8,208.3L648.0,207.5Z"/>
<path fill="#bfd3e6" d="M627.5,191.0L629.7,188.5L630.3,186.2L633.4,187.2L632.6,185.6L635.3,184.6L637.3,184.6L637.6,184.9L636.8,187.2L637.7,188.8L634.4,191.3L635.1,192.6L637.9,194.5L635.3,195.2L635.3,196.5L634.1,196.7L631.7,196.5L630.7,195.8L630.3,192.4Z"/>
<path fill="#810f7c" d="M634.1,196.7L635.3,196.5L635.3,195.2L637.9,194.5L642.1,198.6L643.7,201.5L643.7,203.6L641.1,204.6L638.6,205.4L637.4,202.5L636.2,199.4L636.3,198.6Z"/>
<path fill="#bfd3e6" d="M635.6,229.2L636.9,230.0L636.6,232.6L636.1,237.8L633.8,235.2L634.3,231.0Z"/>
<path fill="#bfd3e6" d="M597.0,165.5L594.0,164.7L591.4,164.4L588.3,166.7L584.5,167.2L580.1,166.4L577.3,165.2L572.7,164.2L565.8,161.9L558.3,159.9L557.7,162.6L559.3,165.2L553.3,165.2L547.2,163.1L544.6,163.9L542.6,165.9L539.9,166.4L539.9,167.3L540.9,168.7L545.9,170.7L550.1,175.3L550.8,177.4L556.5,178.2L561.2,180.0L565.1,183.8L572.7,184.1L583.1,186.2L584.4,186.7L588.7,184.6L593.6,183.8L596.2,181.3L594.2,179.5L594.5,177.7L598.9,178.2L602.3,174.6L608.2,173.8L608.1,173.0L603.7,170.5L598.6,170.5L597.2,169.7L597.0,165.5Z"/>
<path fill="#8856a7" d="M637.3,184.6L636.8,181.8L634.7,178.2L638.1,177.7L637.6,174.1L637.0,171.0L635.9,169.5L632.8,170.0L632.5,171.0L629.4,171.0L626.5,168.2L622.4,166.7L618.7,165.7L617.8,164.4L610.7,158.9L609.8,157.6L603.8,156.3L599.2,156.9L598.8,158.6L600.7,161.4L601.3,165.2L599.8,166.4L597.0,165.5L597.2,169.7L598.6,170.5L603.7,170.5L608.1,173.0L608.2,173.8L602.3,174.6L598.9,178.2L594.5,177.7L594.2,179.5L596.2,181.3L593.6,183.8L588.7,184.6L584.4,186.7L583.1,186.2L572.7,184.1L565.1,183.8L561.2,180.0L556.5,178.2L550.8,177.4L550.1,175.3L545.9,170.7L540.9,168.7L539.9,167.3L538.9,167.4L536.5,169.2L537.6,172.5L532.4,172.3L532.7,176.6L533.4,177.4L529.1,178.4L531.9,182.5L531.0,183.1L531.6,185.1L528.6,187.5L525.7,188.2L524.3,189.8L521.8,189.8L520.1,191.3L520.1,192.3L521.3,194.7L523.6,195.0L524.4,198.0L527.0,199.7L527.7,201.5L531.9,202.5L532.3,202.5L535.1,205.7L537.4,209.6L535.9,210.4L537.3,213.8L542.3,216.4L544.5,216.1L549.7,219.8L554.7,222.1L559.4,222.4L560.9,221.9L561.5,224.0L563.0,221.6L567.3,222.7L568.9,225.1L568.2,222.7L573.0,218.7L576.1,218.5L579.7,221.6L580.2,220.8L583.2,223.2L584.2,227.6L582.6,230.0L582.7,232.8L586.2,234.9L587.0,237.5L589.0,238.9L591.7,239.0L593.3,239.9L593.6,236.8L596.5,236.0L600.3,234.4L603.7,235.7L603.8,237.8L607.2,239.1L611.0,239.1L612.2,242.2L613.3,242.0L612.7,239.6L615.7,238.9L619.5,237.3L620.8,237.0L625.7,235.2L628.5,231.5L631.1,228.1L632.1,222.4L633.5,218.2L630.5,215.3L632.2,214.3L631.2,212.2L628.1,209.1L622.5,204.4L622.7,202.5L623.6,201.2L627.4,198.9L627.0,197.6L624.2,197.1L619.5,198.1L615.0,194.5L614.8,193.4L617.1,192.9L619.3,188.8L621.5,189.0L622.3,193.9L624.2,192.1L627.5,191.0L629.7,188.5L630.3,186.2L633.4,187.2L632.6,185.6L635.3,184.6L637.3,184.6ZM609.7,245.1L611.4,243.0L614.4,243.0L614.8,244.1L613.0,247.5L610.0,246.9Z"/>
<path fill="#9ebcda" d="M458.4,191.6L456.9,192.4L458.2,195.2L458.0,196.3L459.6,198.1L461.4,201.2L463.2,201.8L463.0,203.3L462.2,206.5L464.1,209.1L468.0,211.7L469.0,214.3L470.6,217.0L473.9,216.4L476.4,220.0L480.4,223.7L485.6,226.1L489.9,224.5L491.4,227.9L495.4,228.9L501.3,229.4L501.6,226.8L504.4,225.8L504.4,224.5L503.3,224.2L502.9,221.6L500.7,220.6L497.9,217.3L499.5,214.3L497.0,213.0L495.8,208.5L496.0,205.2L496.0,202.3L495.3,199.7L492.5,198.9L489.5,197.1L485.9,195.5L481.1,196.0L479.1,197.7L475.4,199.7L471.4,197.8L468.4,197.1L467.8,194.9L465.6,193.7L466.0,192.4L463.3,192.6L461.6,193.8L460.0,193.4Z"/>
<path fill="#9ebcda" d="M459.6,198.1L455.6,197.8L454.3,198.4L452.1,199.9L452.6,202.3L452.4,205.4L448.0,208.0L449.2,211.3L451.9,211.9L455.7,214.0L462.3,219.0L466.3,219.3L468.0,216.9L469.3,216.9L470.6,217.0L469.0,214.3L468.0,211.7L464.1,209.1L462.2,206.5L463.0,203.3L463.2,201.8L461.4,201.2L459.6,198.1Z"/>
<path fill="#edf8fb" d="M466.3,219.3L468.0,216.9L469.3,216.9L470.7,220.7L469.2,220.8Z"/>
<path fill="#bfd3e6" d="M440.8,201.5L441.2,204.8L442.3,204.9L442.9,205.9L441.8,208.0L441.4,208.3L441.4,209.9L443.9,210.9L448.0,208.0L452.4,205.4L452.6,202.3L452.1,199.9L454.3,198.4L451.4,198.4L449.4,199.2L445.1,199.2L442.3,199.4L442.2,200.7L441.4,201.6L440.8,201.5Z"/>
<path fill="#bfd3e6" d="M441.2,204.8L442.3,204.9L442.9,205.9L441.8,208.0L441.4,208.3L439.9,208.8Z"/>
<path fill="#bfd3e6" d="M439.9,208.8L441.4,208.3L441.4,209.9L441.1,210.6L441.3,213.0L441.2,214.3L440.7,218.1L440.4,218.2L438.6,213.5L439.0,212.7L439.7,210.4Z"/>
<path fill="#bfd3e6" d="M441.4,209.9L443.9,210.9L448.0,208.0L449.2,211.3L444.6,213.0L447.1,215.6L446.1,216.9L444.0,218.2L443.0,219.0L440.6,218.6L440.7,218.1L441.2,214.3L441.3,213.0L441.1,210.6Z"/>
<path fill="#9ebcda" d="M440.6,218.6L440.1,221.9L441.5,222.1L444.8,227.4L446.6,230.5L449.8,235.2L451.4,239.4L454.8,243.6L458.1,248.3L460.6,252.4L461.6,249.8L464.3,249.8L468.9,250.3L471.2,250.9L472.6,247.7L474.6,246.7L481.1,245.6L487.7,243.0L488.8,237.8L487.5,236.0L481.6,235.5L479.1,232.3L479.0,231.8L477.1,230.6L475.6,228.4L474.8,225.5L471.9,222.9L470.7,220.7L469.2,220.8L466.3,219.3L462.3,219.0L455.7,214.0L451.9,211.9L449.2,211.3L444.6,213.0L447.1,215.6L446.1,216.9L444.0,218.2L443.0,219.0L440.6,218.6Z"/>
<path fill="#bfd3e6" d="M481.1,245.6L474.6,246.7L472.6,247.7L471.2,250.9L468.9,250.3L464.3,249.8L461.6,249.8L460.6,252.4L460.6,256.1L461.9,260.5L462.7,262.2L466.1,261.8L470.6,260.0L474.4,258.7L478.4,256.1L482.2,254.5L484.0,251.8Z"/>
<path fill="#edf8fb" d="M484.0,251.8L487.8,250.9L488.9,249.3L491.3,248.3L494.2,245.6L493.7,242.5L496.2,241.7L498.0,236.5L495.0,233.6L491.3,232.6L489.7,230.2L489.0,232.3L487.5,236.0L488.8,237.8L487.7,243.0L481.1,245.6ZM488.7,227.2L489.5,226.6L489.5,228.4L488.8,228.1Z"/>
<path fill="#edf8fb" d="M479.0,231.8L479.1,232.3L481.6,235.5L487.5,236.0L481.3,232.1L484.5,232.3L485.7,231.3L487.1,229.2L488.7,227.2L488.8,228.1L489.5,228.4L489.7,230.2L489.0,232.3L487.5,236.0Z"/>
<path fill="#edf8fb" d="M477.1,230.6L476.9,228.7L477.7,227.1L478.7,227.9L478.9,230.2L478.3,231.3Z"/>
<path fill="#edf8fb" d="M739.5,385.2L740.9,388.8L742.3,391.1L741.4,393.5L743.5,394.5L747.0,393.7L743.0,397.4L740.6,398.2L738.5,400.8L732.7,403.9L732.0,403.1L735.0,400.2L735.2,399.5L733.7,398.2L736.5,396.6L739.2,393.2L739.8,390.4L739.3,387.2ZM729.3,401.0L731.6,402.3L730.0,404.4L724.8,407.7L722.7,409.8L718.7,410.8L714.3,414.9L710.2,416.7L707.7,416.7L705.3,415.2L709.4,412.4L714.2,409.8L720.2,407.2L724.7,404.1L727.3,402.1ZM705.6,417.5L706.8,417.5L705.8,418.3Z"/>
</g><g fill="#fff" stroke="#4f5560" stroke-opacity="0.5" stroke-width="0.3">
</g>
<g>
<rect x="219.4" y="484" width="68.5" height="11" fill="#edf8fb"/>
<rect x="287.9" y="484" width="68.5" height="11" fill="#bfd3e6"/>
<rect x="356.4" y="484" width="68.5" height="11" fill="#9ebcda"/>
<rect x="424.9" y="484" width="68.5" height="11" fill="#8c96c6"/>
<rect x="493.4" y="484" width="68.5" height="11" fill="#8856a7"/>
<path d="M561.9,484H624.6L630.6,489.5L624.6,495H561.9Z" fill="#810f7c"/>
<path d="M219.4,484H561.9M219.4,495H561.9" stroke="#999" stroke-width="0.6" fill="none"/>
<path d="M219.4,481V495" stroke="#8f8f8f" stroke-width="0.7"/>
<path d="M287.9,481V495" stroke="#8f8f8f" stroke-width="0.7"/>
<path d="M356.4,481V495" stroke="#8f8f8f" stroke-width="0.7"/>
<path d="M424.9,481V495" stroke="#8f8f8f" stroke-width="0.7"/>
<path d="M493.4,481V495" stroke="#8f8f8f" stroke-width="0.7"/>
<path d="M561.9,481V495" stroke="#8f8f8f" stroke-width="0.7"/>
<rect x="325.8" y="499.6" width="13.4" height="13" fill="url(#h)" stroke="#b4b4b4" stroke-width="0.8"/>
<rect x="406.5" y="499.6" width="13.8" height="13" fill="url(#dots)" stroke="#b4b4b4" stroke-width="0.8"/>
</g></svg><div class="t lg" id="l0" style="left:219.4px;top:465.7px">0</div>
<div class="t lg" id="l1" style="left:288.3px;top:465.7px">1 million</div>
<div class="t lg" id="l2" style="left:356.6px;top:465.7px">5 million</div>
<div class="t lg" id="l3" style="left:424.8px;top:465.7px">10 million</div>
<div class="t lg" id="l4" style="left:493.7px;top:465.7px">15 million</div>
<div class="t lg" id="l5" style="left:562px;top:465.7px">20 million</div>
<div class="t lk" id="nd" style="left:345px;top:498.6px;letter-spacing:0.19px">No data</div>
<div class="t lk" id="pd" style="left:426px;top:498.6px;letter-spacing:0.23px">Projected data</div>
<div class="t ft" id="ds" style="left:17px;top:534.1px"><b style="font-size:12.5px;letter-spacing:-0.35px">Data source:</b></div>
<div class="t ft" id="ds2" style="left:92.6px;top:534.1px;letter-spacing:-0.31px">European Commission, Joint Research Centre (JRC) (2025)</div>
<div class="t ft" id="url" style="right:19px;top:534.1px">OurWorldinData.org/urbanization | CC BY</div>
<div class="t ft" id="n0" style="left:17px;top:554.4px"><b style="letter-spacing:-0.42px">Note:</b></div>
<div class="t ft" id="n1" style="left:52.2px;top:554.4px;letter-spacing:-0.05px">Because city boundaries follow a standardized global approach rather than national definitions, estimates may differ from official country</div>
<div class="t ft" id="n2" style="left:17px;top:569.5px;letter-spacing:-0.29px">figures.</div>
</body></html>
